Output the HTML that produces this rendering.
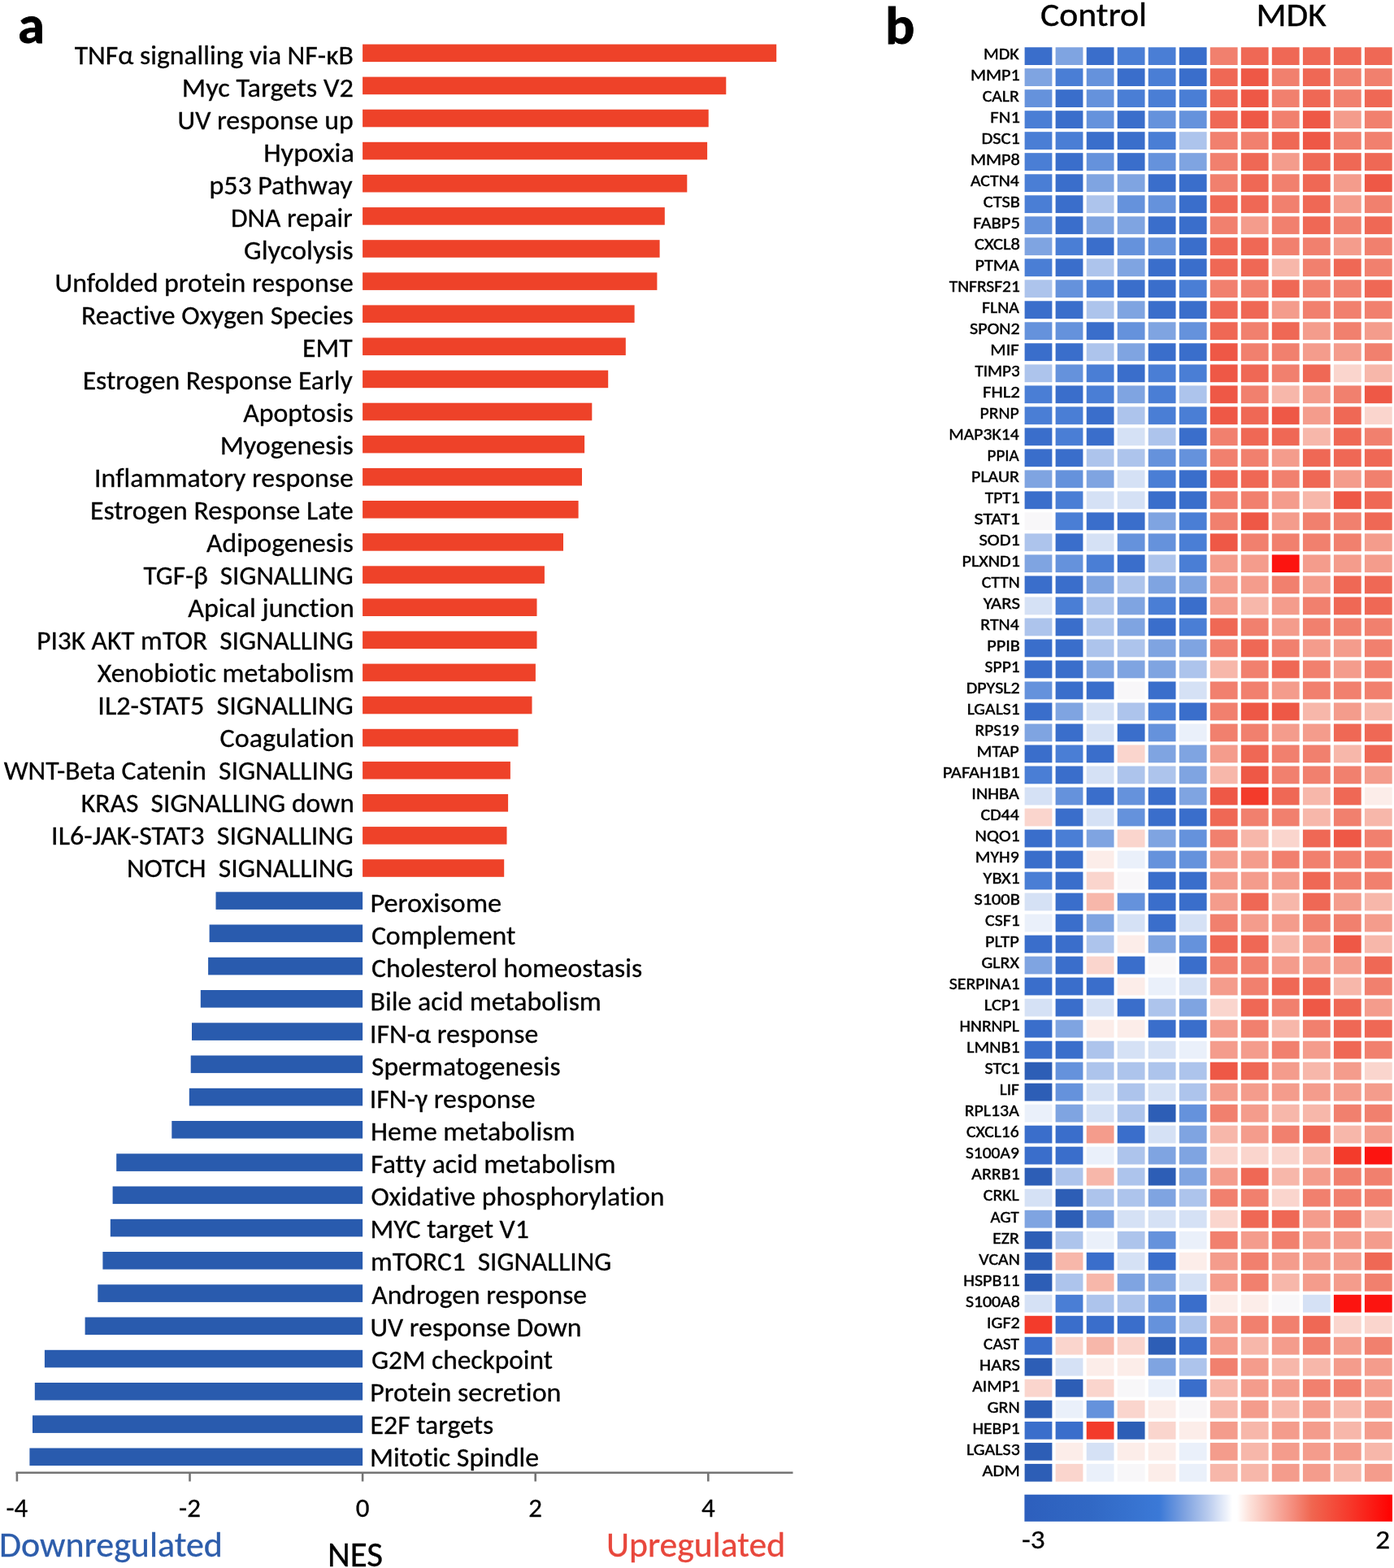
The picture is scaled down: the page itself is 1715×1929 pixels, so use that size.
<!DOCTYPE html><html><head><meta charset="utf-8"><title>GSEA NES and heatmap</title><style>html,body{margin:0;padding:0;background:#fff}svg{display:block}text{font-family:"Carlito","Liberation Sans",sans-serif;white-space:pre;font-variant-ligatures:none;font-feature-settings:"liga" 0}</style></head><body>
<svg width="1715" height="1929" viewBox="0 0 1715 1929">
<rect width="1715" height="1929" fill="#ffffff"/>
<text x="22" y="53.2" font-size="64" font-weight="bold" fill="#000" stroke="#000" stroke-width="0.8" textLength="32.9" lengthAdjust="spacingAndGlyphs">a</text>
<text x="1089" y="53.5" font-size="64" font-weight="bold" fill="#000" stroke="#000" stroke-width="0.8" textLength="36.4" lengthAdjust="spacingAndGlyphs">b</text>
<g><rect x="446.1" y="54.5" width="509.1" height="21.6" fill="#ee4229"/><rect x="446.1" y="94.6" width="447.2" height="21.6" fill="#ee4229"/><rect x="446.1" y="134.7" width="425.6" height="21.6" fill="#ee4229"/><rect x="446.1" y="174.8" width="424.0" height="21.6" fill="#ee4229"/><rect x="446.1" y="214.9" width="399.2" height="21.6" fill="#ee4229"/><rect x="446.1" y="255.1" width="371.7" height="21.6" fill="#ee4229"/><rect x="446.1" y="295.2" width="365.5" height="21.6" fill="#ee4229"/><rect x="446.1" y="335.3" width="362.3" height="21.6" fill="#ee4229"/><rect x="446.1" y="375.4" width="334.5" height="21.6" fill="#ee4229"/><rect x="446.1" y="415.5" width="323.7" height="21.6" fill="#ee4229"/><rect x="446.1" y="455.6" width="302.1" height="21.6" fill="#ee4229"/><rect x="446.1" y="495.7" width="282.2" height="21.6" fill="#ee4229"/><rect x="446.1" y="535.8" width="273.0" height="21.6" fill="#ee4229"/><rect x="446.1" y="575.9" width="269.9" height="21.6" fill="#ee4229"/><rect x="446.1" y="616.0" width="265.5" height="21.6" fill="#ee4229"/><rect x="446.1" y="656.1" width="246.9" height="21.6" fill="#ee4229"/><rect x="446.1" y="696.3" width="223.8" height="21.6" fill="#ee4229"/><rect x="446.1" y="736.4" width="214.4" height="21.6" fill="#ee4229"/><rect x="446.1" y="776.5" width="214.4" height="21.6" fill="#ee4229"/><rect x="446.1" y="816.6" width="212.8" height="21.6" fill="#ee4229"/><rect x="446.1" y="856.7" width="208.4" height="21.6" fill="#ee4229"/><rect x="446.1" y="896.8" width="191.4" height="21.6" fill="#ee4229"/><rect x="446.1" y="936.9" width="181.8" height="21.6" fill="#ee4229"/><rect x="446.1" y="977.0" width="179.0" height="21.6" fill="#ee4229"/><rect x="446.1" y="1017.1" width="177.4" height="21.6" fill="#ee4229"/><rect x="446.1" y="1057.2" width="174.1" height="21.6" fill="#ee4229"/><rect x="265.5" y="1097.3" width="180.6" height="21.6" fill="#295bae"/><rect x="257.6" y="1137.5" width="188.5" height="21.6" fill="#295bae"/><rect x="256.1" y="1177.8" width="190.0" height="21.6" fill="#295bae"/><rect x="246.8" y="1218.0" width="199.3" height="21.6" fill="#295bae"/><rect x="236.0" y="1258.3" width="210.1" height="21.6" fill="#295bae"/><rect x="234.7" y="1298.5" width="211.4" height="21.6" fill="#295bae"/><rect x="232.8" y="1338.8" width="213.3" height="21.6" fill="#295bae"/><rect x="211.3" y="1379.0" width="234.8" height="21.6" fill="#295bae"/><rect x="143.2" y="1419.3" width="302.9" height="21.6" fill="#295bae"/><rect x="138.6" y="1459.5" width="307.5" height="21.6" fill="#295bae"/><rect x="135.8" y="1499.8" width="310.3" height="21.6" fill="#295bae"/><rect x="126.4" y="1540.0" width="319.7" height="21.6" fill="#295bae"/><rect x="120.3" y="1580.3" width="325.8" height="21.6" fill="#295bae"/><rect x="104.6" y="1620.5" width="341.5" height="21.6" fill="#295bae"/><rect x="54.9" y="1660.8" width="391.2" height="21.6" fill="#295bae"/><rect x="42.8" y="1701.0" width="403.3" height="21.6" fill="#295bae"/><rect x="40.0" y="1741.3" width="406.1" height="21.6" fill="#295bae"/><rect x="36.4" y="1781.5" width="409.7" height="21.6" fill="#295bae"/></g>
<g font-size="32.5" fill="#000" stroke="#000" stroke-width="0.3"><text x="434.8" y="78.9" text-anchor="end" textLength="343.1" lengthAdjust="spacingAndGlyphs">TNFα signalling via NF-κB</text><text x="434.8" y="118.9" text-anchor="end" textLength="211.0" lengthAdjust="spacingAndGlyphs">Myc Targets V2</text><text x="434.8" y="158.9" text-anchor="end" textLength="216.3" lengthAdjust="spacingAndGlyphs">UV response up</text><text x="435.9" y="198.9" text-anchor="end" textLength="111.7" lengthAdjust="spacingAndGlyphs">Hypoxia</text><text x="433.7" y="238.9" text-anchor="end" textLength="176.3" lengthAdjust="spacingAndGlyphs">p53 Pathway</text><text x="433.7" y="278.9" text-anchor="end" textLength="149.7" lengthAdjust="spacingAndGlyphs">DNA repair</text><text x="434.8" y="318.9" text-anchor="end" textLength="134.7" lengthAdjust="spacingAndGlyphs">Glycolysis</text><text x="434.8" y="358.9" text-anchor="end" textLength="367.2" lengthAdjust="spacingAndGlyphs">Unfolded protein response</text><text x="434.8" y="398.9" text-anchor="end" textLength="334.9" lengthAdjust="spacingAndGlyphs">Reactive Oxygen Species</text><text x="433.7" y="438.9" text-anchor="end" textLength="61.6" lengthAdjust="spacingAndGlyphs">EMT</text><text x="433.7" y="478.9" text-anchor="end" textLength="332.0" lengthAdjust="spacingAndGlyphs">Estrogen Response Early</text><text x="434.8" y="518.9" text-anchor="end" textLength="135.6" lengthAdjust="spacingAndGlyphs">Apoptosis</text><text x="434.8" y="558.9" text-anchor="end" textLength="164.1" lengthAdjust="spacingAndGlyphs">Myogenesis</text><text x="434.8" y="598.9" text-anchor="end" textLength="318.7" lengthAdjust="spacingAndGlyphs">Inflammatory response</text><text x="434.8" y="638.9" text-anchor="end" textLength="323.8" lengthAdjust="spacingAndGlyphs">Estrogen Response Late</text><text x="434.8" y="678.9" text-anchor="end" textLength="180.7" lengthAdjust="spacingAndGlyphs">Adipogenesis</text><text x="434.7" y="718.9" text-anchor="end" textLength="258.1" lengthAdjust="spacingAndGlyphs">TGF-β  SIGNALLING</text><text x="435.8" y="758.9" text-anchor="end" textLength="204.5" lengthAdjust="spacingAndGlyphs">Apical junction</text><text x="434.8" y="798.9" text-anchor="end" textLength="389.6" lengthAdjust="spacingAndGlyphs">PI3K AKT mTOR  SIGNALLING</text><text x="435.8" y="838.9" text-anchor="end" textLength="316.0" lengthAdjust="spacingAndGlyphs">Xenobiotic metabolism</text><text x="434.8" y="878.9" text-anchor="end" textLength="314.5" lengthAdjust="spacingAndGlyphs">IL2-STAT5  SIGNALLING</text><text x="435.8" y="918.9" text-anchor="end" textLength="165.2" lengthAdjust="spacingAndGlyphs">Coagulation</text><text x="434.8" y="958.9" text-anchor="end" textLength="430.1" lengthAdjust="spacingAndGlyphs">WNT-Beta Catenin  SIGNALLING</text><text x="435.8" y="998.9" text-anchor="end" textLength="336.0" lengthAdjust="spacingAndGlyphs">KRAS  SIGNALLING down</text><text x="434.8" y="1038.9" text-anchor="end" textLength="371.7" lengthAdjust="spacingAndGlyphs">IL6-JAK-STAT3  SIGNALLING</text><text x="434.8" y="1078.9" text-anchor="end" textLength="278.9" lengthAdjust="spacingAndGlyphs">NOTCH  SIGNALLING</text><text x="617.2" y="1122.1" text-anchor="end" textLength="161.7" lengthAdjust="spacingAndGlyphs">Peroxisome</text><text x="634.3" y="1162.2" text-anchor="end" textLength="177.4" lengthAdjust="spacingAndGlyphs">Complement</text><text x="790.1" y="1202.3" text-anchor="end" textLength="333.0" lengthAdjust="spacingAndGlyphs">Cholesterol homeostasis</text><text x="739.9" y="1242.5" text-anchor="end" textLength="284.3" lengthAdjust="spacingAndGlyphs">Bile acid metabolism</text><text x="662.2" y="1282.6" text-anchor="end" textLength="207.3" lengthAdjust="spacingAndGlyphs">IFN-α response</text><text x="689.5" y="1322.7" text-anchor="end" textLength="232.5" lengthAdjust="spacingAndGlyphs">Spermatogenesis</text><text x="658.6" y="1362.8" text-anchor="end" textLength="203.8" lengthAdjust="spacingAndGlyphs">IFN-γ response</text><text x="707.4" y="1402.9" text-anchor="end" textLength="251.4" lengthAdjust="spacingAndGlyphs">Heme metabolism</text><text x="757.4" y="1443.1" text-anchor="end" textLength="301.4" lengthAdjust="spacingAndGlyphs">Fatty acid metabolism</text><text x="817.4" y="1483.2" text-anchor="end" textLength="360.9" lengthAdjust="spacingAndGlyphs">Oxidative phosphorylation</text><text x="650.8" y="1523.3" text-anchor="end" textLength="195.4" lengthAdjust="spacingAndGlyphs">MYC target V1</text><text x="752.3" y="1563.4" text-anchor="end" textLength="296.2" lengthAdjust="spacingAndGlyphs">mTORC1  SIGNALLING</text><text x="722.0" y="1603.5" text-anchor="end" textLength="264.7" lengthAdjust="spacingAndGlyphs">Androgen response</text><text x="715.5" y="1643.7" text-anchor="end" textLength="260.0" lengthAdjust="spacingAndGlyphs">UV response Down</text><text x="680.0" y="1683.8" text-anchor="end" textLength="223.1" lengthAdjust="spacingAndGlyphs">G2M checkpoint</text><text x="690.3" y="1723.9" text-anchor="end" textLength="235.0" lengthAdjust="spacingAndGlyphs">Protein secretion</text><text x="607.2" y="1764.0" text-anchor="end" textLength="151.6" lengthAdjust="spacingAndGlyphs">E2F targets</text><text x="663.2" y="1804.1" text-anchor="end" textLength="208.1" lengthAdjust="spacingAndGlyphs">Mitotic Spindle</text></g>
<g stroke="#747474" stroke-width="2.6" fill="none"><line x1="19.5" y1="1811.8" x2="975.5" y2="1811.8"/>
<line x1="20.9" y1="1811.8" x2="20.9" y2="1822.5"/>
<line x1="233.5" y1="1811.8" x2="233.5" y2="1822.5"/>
<line x1="446.1" y1="1811.8" x2="446.1" y2="1822.5"/>
<line x1="658.7" y1="1811.8" x2="658.7" y2="1822.5"/>
<line x1="871.3" y1="1811.8" x2="871.3" y2="1822.5"/>
</g>
<text x="20.9" y="1866" font-size="32" text-anchor="middle" fill="#000" stroke="#000" stroke-width="0.3" textLength="26.8" lengthAdjust="spacingAndGlyphs">-4</text><text x="233.5" y="1866" font-size="32" text-anchor="middle" fill="#000" stroke="#000" stroke-width="0.3" textLength="26.8" lengthAdjust="spacingAndGlyphs">-2</text><text x="446.1" y="1866" font-size="32" text-anchor="middle" fill="#000" stroke="#000" stroke-width="0.3" textLength="16.7" lengthAdjust="spacingAndGlyphs">0</text><text x="658.7" y="1866" font-size="32" text-anchor="middle" fill="#000" stroke="#000" stroke-width="0.3" textLength="16.7" lengthAdjust="spacingAndGlyphs">2</text><text x="871.3" y="1866" font-size="32" text-anchor="middle" fill="#000" stroke="#000" stroke-width="0.3" textLength="16.7" lengthAdjust="spacingAndGlyphs">4</text>
<text x="-1" y="1915" font-size="43" fill="#2d5dab" stroke="#2d5dab" stroke-width="0.3" textLength="274.9" lengthAdjust="spacingAndGlyphs">Downregulated</text>
<text x="403" y="1926.8" font-size="43" fill="#000" stroke="#000" stroke-width="0.3" textLength="68.1" lengthAdjust="spacingAndGlyphs">NES</text>
<text x="746" y="1915" font-size="43" fill="#e8473c" stroke="#e8473c" stroke-width="0.3" textLength="220.1" lengthAdjust="spacingAndGlyphs">Upregulated</text>
<g><rect x="1260.6" y="58.2" width="33.8" height="21.8" fill="#3a6ecb"/><rect x="1298.6" y="58.2" width="33.8" height="21.8" fill="#7fa4e1"/><rect x="1336.7" y="58.2" width="33.8" height="21.8" fill="#3a6ecb"/><rect x="1374.7" y="58.2" width="33.8" height="21.8" fill="#4a7ed5"/><rect x="1412.7" y="58.2" width="33.8" height="21.8" fill="#4a7ed5"/><rect x="1450.8" y="58.2" width="33.8" height="21.8" fill="#3a6ecb"/><rect x="1488.8" y="58.2" width="33.8" height="21.8" fill="#f1806e"/><rect x="1526.8" y="58.2" width="33.8" height="21.8" fill="#ef6855"/><rect x="1564.8" y="58.2" width="33.8" height="21.8" fill="#ef6855"/><rect x="1602.9" y="58.2" width="33.8" height="21.8" fill="#ef6855"/><rect x="1640.9" y="58.2" width="33.8" height="21.8" fill="#ef6855"/><rect x="1678.9" y="58.2" width="33.8" height="21.8" fill="#ef6855"/><rect x="1260.6" y="84.2" width="33.8" height="21.8" fill="#7fa4e1"/><rect x="1298.6" y="84.2" width="33.8" height="21.8" fill="#4a7ed5"/><rect x="1336.7" y="84.2" width="33.8" height="21.8" fill="#6592dc"/><rect x="1374.7" y="84.2" width="33.8" height="21.8" fill="#3a6ecb"/><rect x="1412.7" y="84.2" width="33.8" height="21.8" fill="#4a7ed5"/><rect x="1450.8" y="84.2" width="33.8" height="21.8" fill="#3a6ecb"/><rect x="1488.8" y="84.2" width="33.8" height="21.8" fill="#ef6855"/><rect x="1526.8" y="84.2" width="33.8" height="21.8" fill="#ee5846"/><rect x="1564.8" y="84.2" width="33.8" height="21.8" fill="#f1806e"/><rect x="1602.9" y="84.2" width="33.8" height="21.8" fill="#ef6855"/><rect x="1640.9" y="84.2" width="33.8" height="21.8" fill="#f1806e"/><rect x="1678.9" y="84.2" width="33.8" height="21.8" fill="#f1806e"/><rect x="1260.6" y="110.2" width="33.8" height="21.8" fill="#6592dc"/><rect x="1298.6" y="110.2" width="33.8" height="21.8" fill="#3a6ecb"/><rect x="1336.7" y="110.2" width="33.8" height="21.8" fill="#6592dc"/><rect x="1374.7" y="110.2" width="33.8" height="21.8" fill="#4a7ed5"/><rect x="1412.7" y="110.2" width="33.8" height="21.8" fill="#4a7ed5"/><rect x="1450.8" y="110.2" width="33.8" height="21.8" fill="#4a7ed5"/><rect x="1488.8" y="110.2" width="33.8" height="21.8" fill="#ef6855"/><rect x="1526.8" y="110.2" width="33.8" height="21.8" fill="#ee5846"/><rect x="1564.8" y="110.2" width="33.8" height="21.8" fill="#f1806e"/><rect x="1602.9" y="110.2" width="33.8" height="21.8" fill="#ef6855"/><rect x="1640.9" y="110.2" width="33.8" height="21.8" fill="#f1806e"/><rect x="1678.9" y="110.2" width="33.8" height="21.8" fill="#ef6855"/><rect x="1260.6" y="136.2" width="33.8" height="21.8" fill="#4a7ed5"/><rect x="1298.6" y="136.2" width="33.8" height="21.8" fill="#3a6ecb"/><rect x="1336.7" y="136.2" width="33.8" height="21.8" fill="#6592dc"/><rect x="1374.7" y="136.2" width="33.8" height="21.8" fill="#3a6ecb"/><rect x="1412.7" y="136.2" width="33.8" height="21.8" fill="#6592dc"/><rect x="1450.8" y="136.2" width="33.8" height="21.8" fill="#6592dc"/><rect x="1488.8" y="136.2" width="33.8" height="21.8" fill="#ef6855"/><rect x="1526.8" y="136.2" width="33.8" height="21.8" fill="#ee5846"/><rect x="1564.8" y="136.2" width="33.8" height="21.8" fill="#f1806e"/><rect x="1602.9" y="136.2" width="33.8" height="21.8" fill="#ee5846"/><rect x="1640.9" y="136.2" width="33.8" height="21.8" fill="#f49c8c"/><rect x="1678.9" y="136.2" width="33.8" height="21.8" fill="#f1806e"/><rect x="1260.6" y="162.2" width="33.8" height="21.8" fill="#4a7ed5"/><rect x="1298.6" y="162.2" width="33.8" height="21.8" fill="#4a7ed5"/><rect x="1336.7" y="162.2" width="33.8" height="21.8" fill="#3a6ecb"/><rect x="1374.7" y="162.2" width="33.8" height="21.8" fill="#3a6ecb"/><rect x="1412.7" y="162.2" width="33.8" height="21.8" fill="#4a7ed5"/><rect x="1450.8" y="162.2" width="33.8" height="21.8" fill="#adc4ec"/><rect x="1488.8" y="162.2" width="33.8" height="21.8" fill="#f1806e"/><rect x="1526.8" y="162.2" width="33.8" height="21.8" fill="#f1806e"/><rect x="1564.8" y="162.2" width="33.8" height="21.8" fill="#ef6855"/><rect x="1602.9" y="162.2" width="33.8" height="21.8" fill="#ee5846"/><rect x="1640.9" y="162.2" width="33.8" height="21.8" fill="#f1806e"/><rect x="1678.9" y="162.2" width="33.8" height="21.8" fill="#f1806e"/><rect x="1260.6" y="188.2" width="33.8" height="21.8" fill="#4a7ed5"/><rect x="1298.6" y="188.2" width="33.8" height="21.8" fill="#3a6ecb"/><rect x="1336.7" y="188.2" width="33.8" height="21.8" fill="#6592dc"/><rect x="1374.7" y="188.2" width="33.8" height="21.8" fill="#3a6ecb"/><rect x="1412.7" y="188.2" width="33.8" height="21.8" fill="#6592dc"/><rect x="1450.8" y="188.2" width="33.8" height="21.8" fill="#7fa4e1"/><rect x="1488.8" y="188.2" width="33.8" height="21.8" fill="#f1806e"/><rect x="1526.8" y="188.2" width="33.8" height="21.8" fill="#ef6855"/><rect x="1564.8" y="188.2" width="33.8" height="21.8" fill="#f49c8c"/><rect x="1602.9" y="188.2" width="33.8" height="21.8" fill="#ef6855"/><rect x="1640.9" y="188.2" width="33.8" height="21.8" fill="#ef6855"/><rect x="1678.9" y="188.2" width="33.8" height="21.8" fill="#ef6855"/><rect x="1260.6" y="214.3" width="33.8" height="21.8" fill="#4a7ed5"/><rect x="1298.6" y="214.3" width="33.8" height="21.8" fill="#3a6ecb"/><rect x="1336.7" y="214.3" width="33.8" height="21.8" fill="#7fa4e1"/><rect x="1374.7" y="214.3" width="33.8" height="21.8" fill="#7fa4e1"/><rect x="1412.7" y="214.3" width="33.8" height="21.8" fill="#3a6ecb"/><rect x="1450.8" y="214.3" width="33.8" height="21.8" fill="#3a6ecb"/><rect x="1488.8" y="214.3" width="33.8" height="21.8" fill="#f1806e"/><rect x="1526.8" y="214.3" width="33.8" height="21.8" fill="#ef6855"/><rect x="1564.8" y="214.3" width="33.8" height="21.8" fill="#f1806e"/><rect x="1602.9" y="214.3" width="33.8" height="21.8" fill="#ef6855"/><rect x="1640.9" y="214.3" width="33.8" height="21.8" fill="#f49c8c"/><rect x="1678.9" y="214.3" width="33.8" height="21.8" fill="#ee5846"/><rect x="1260.6" y="240.3" width="33.8" height="21.8" fill="#4a7ed5"/><rect x="1298.6" y="240.3" width="33.8" height="21.8" fill="#3a6ecb"/><rect x="1336.7" y="240.3" width="33.8" height="21.8" fill="#adc4ec"/><rect x="1374.7" y="240.3" width="33.8" height="21.8" fill="#6592dc"/><rect x="1412.7" y="240.3" width="33.8" height="21.8" fill="#6592dc"/><rect x="1450.8" y="240.3" width="33.8" height="21.8" fill="#3a6ecb"/><rect x="1488.8" y="240.3" width="33.8" height="21.8" fill="#ef6855"/><rect x="1526.8" y="240.3" width="33.8" height="21.8" fill="#ef6855"/><rect x="1564.8" y="240.3" width="33.8" height="21.8" fill="#f1806e"/><rect x="1602.9" y="240.3" width="33.8" height="21.8" fill="#ef6855"/><rect x="1640.9" y="240.3" width="33.8" height="21.8" fill="#f49c8c"/><rect x="1678.9" y="240.3" width="33.8" height="21.8" fill="#f1806e"/><rect x="1260.6" y="266.3" width="33.8" height="21.8" fill="#6592dc"/><rect x="1298.6" y="266.3" width="33.8" height="21.8" fill="#3a6ecb"/><rect x="1336.7" y="266.3" width="33.8" height="21.8" fill="#7fa4e1"/><rect x="1374.7" y="266.3" width="33.8" height="21.8" fill="#7fa4e1"/><rect x="1412.7" y="266.3" width="33.8" height="21.8" fill="#3a6ecb"/><rect x="1450.8" y="266.3" width="33.8" height="21.8" fill="#3a6ecb"/><rect x="1488.8" y="266.3" width="33.8" height="21.8" fill="#f1806e"/><rect x="1526.8" y="266.3" width="33.8" height="21.8" fill="#f49c8c"/><rect x="1564.8" y="266.3" width="33.8" height="21.8" fill="#f1806e"/><rect x="1602.9" y="266.3" width="33.8" height="21.8" fill="#ef6855"/><rect x="1640.9" y="266.3" width="33.8" height="21.8" fill="#f1806e"/><rect x="1678.9" y="266.3" width="33.8" height="21.8" fill="#ef6855"/><rect x="1260.6" y="292.3" width="33.8" height="21.8" fill="#7fa4e1"/><rect x="1298.6" y="292.3" width="33.8" height="21.8" fill="#4a7ed5"/><rect x="1336.7" y="292.3" width="33.8" height="21.8" fill="#3a6ecb"/><rect x="1374.7" y="292.3" width="33.8" height="21.8" fill="#6592dc"/><rect x="1412.7" y="292.3" width="33.8" height="21.8" fill="#6592dc"/><rect x="1450.8" y="292.3" width="33.8" height="21.8" fill="#3a6ecb"/><rect x="1488.8" y="292.3" width="33.8" height="21.8" fill="#ef6855"/><rect x="1526.8" y="292.3" width="33.8" height="21.8" fill="#ef6855"/><rect x="1564.8" y="292.3" width="33.8" height="21.8" fill="#f1806e"/><rect x="1602.9" y="292.3" width="33.8" height="21.8" fill="#f1806e"/><rect x="1640.9" y="292.3" width="33.8" height="21.8" fill="#f49c8c"/><rect x="1678.9" y="292.3" width="33.8" height="21.8" fill="#f1806e"/><rect x="1260.6" y="318.3" width="33.8" height="21.8" fill="#4a7ed5"/><rect x="1298.6" y="318.3" width="33.8" height="21.8" fill="#3a6ecb"/><rect x="1336.7" y="318.3" width="33.8" height="21.8" fill="#adc4ec"/><rect x="1374.7" y="318.3" width="33.8" height="21.8" fill="#7fa4e1"/><rect x="1412.7" y="318.3" width="33.8" height="21.8" fill="#3a6ecb"/><rect x="1450.8" y="318.3" width="33.8" height="21.8" fill="#3a6ecb"/><rect x="1488.8" y="318.3" width="33.8" height="21.8" fill="#ef6855"/><rect x="1526.8" y="318.3" width="33.8" height="21.8" fill="#ef6855"/><rect x="1564.8" y="318.3" width="33.8" height="21.8" fill="#f7b7aa"/><rect x="1602.9" y="318.3" width="33.8" height="21.8" fill="#f1806e"/><rect x="1640.9" y="318.3" width="33.8" height="21.8" fill="#ef6855"/><rect x="1678.9" y="318.3" width="33.8" height="21.8" fill="#f1806e"/><rect x="1260.6" y="344.3" width="33.8" height="21.8" fill="#adc4ec"/><rect x="1298.6" y="344.3" width="33.8" height="21.8" fill="#6592dc"/><rect x="1336.7" y="344.3" width="33.8" height="21.8" fill="#4a7ed5"/><rect x="1374.7" y="344.3" width="33.8" height="21.8" fill="#3a6ecb"/><rect x="1412.7" y="344.3" width="33.8" height="21.8" fill="#3a6ecb"/><rect x="1450.8" y="344.3" width="33.8" height="21.8" fill="#4a7ed5"/><rect x="1488.8" y="344.3" width="33.8" height="21.8" fill="#f1806e"/><rect x="1526.8" y="344.3" width="33.8" height="21.8" fill="#f1806e"/><rect x="1564.8" y="344.3" width="33.8" height="21.8" fill="#ef6855"/><rect x="1602.9" y="344.3" width="33.8" height="21.8" fill="#f1806e"/><rect x="1640.9" y="344.3" width="33.8" height="21.8" fill="#f1806e"/><rect x="1678.9" y="344.3" width="33.8" height="21.8" fill="#ef6855"/><rect x="1260.6" y="370.3" width="33.8" height="21.8" fill="#3a6ecb"/><rect x="1298.6" y="370.3" width="33.8" height="21.8" fill="#3a6ecb"/><rect x="1336.7" y="370.3" width="33.8" height="21.8" fill="#adc4ec"/><rect x="1374.7" y="370.3" width="33.8" height="21.8" fill="#7fa4e1"/><rect x="1412.7" y="370.3" width="33.8" height="21.8" fill="#3a6ecb"/><rect x="1450.8" y="370.3" width="33.8" height="21.8" fill="#3a6ecb"/><rect x="1488.8" y="370.3" width="33.8" height="21.8" fill="#ef6855"/><rect x="1526.8" y="370.3" width="33.8" height="21.8" fill="#ef6855"/><rect x="1564.8" y="370.3" width="33.8" height="21.8" fill="#f49c8c"/><rect x="1602.9" y="370.3" width="33.8" height="21.8" fill="#f1806e"/><rect x="1640.9" y="370.3" width="33.8" height="21.8" fill="#f1806e"/><rect x="1678.9" y="370.3" width="33.8" height="21.8" fill="#f1806e"/><rect x="1260.6" y="396.3" width="33.8" height="21.8" fill="#6592dc"/><rect x="1298.6" y="396.3" width="33.8" height="21.8" fill="#6592dc"/><rect x="1336.7" y="396.3" width="33.8" height="21.8" fill="#3a6ecb"/><rect x="1374.7" y="396.3" width="33.8" height="21.8" fill="#6592dc"/><rect x="1412.7" y="396.3" width="33.8" height="21.8" fill="#7fa4e1"/><rect x="1450.8" y="396.3" width="33.8" height="21.8" fill="#6592dc"/><rect x="1488.8" y="396.3" width="33.8" height="21.8" fill="#ef6855"/><rect x="1526.8" y="396.3" width="33.8" height="21.8" fill="#f1806e"/><rect x="1564.8" y="396.3" width="33.8" height="21.8" fill="#ef6855"/><rect x="1602.9" y="396.3" width="33.8" height="21.8" fill="#f49c8c"/><rect x="1640.9" y="396.3" width="33.8" height="21.8" fill="#f1806e"/><rect x="1678.9" y="396.3" width="33.8" height="21.8" fill="#f49c8c"/><rect x="1260.6" y="422.3" width="33.8" height="21.8" fill="#3a6ecb"/><rect x="1298.6" y="422.3" width="33.8" height="21.8" fill="#3a6ecb"/><rect x="1336.7" y="422.3" width="33.8" height="21.8" fill="#adc4ec"/><rect x="1374.7" y="422.3" width="33.8" height="21.8" fill="#7fa4e1"/><rect x="1412.7" y="422.3" width="33.8" height="21.8" fill="#3a6ecb"/><rect x="1450.8" y="422.3" width="33.8" height="21.8" fill="#3a6ecb"/><rect x="1488.8" y="422.3" width="33.8" height="21.8" fill="#ee5846"/><rect x="1526.8" y="422.3" width="33.8" height="21.8" fill="#f1806e"/><rect x="1564.8" y="422.3" width="33.8" height="21.8" fill="#f1806e"/><rect x="1602.9" y="422.3" width="33.8" height="21.8" fill="#f49c8c"/><rect x="1640.9" y="422.3" width="33.8" height="21.8" fill="#f49c8c"/><rect x="1678.9" y="422.3" width="33.8" height="21.8" fill="#f1806e"/><rect x="1260.6" y="448.4" width="33.8" height="21.8" fill="#adc4ec"/><rect x="1298.6" y="448.4" width="33.8" height="21.8" fill="#6592dc"/><rect x="1336.7" y="448.4" width="33.8" height="21.8" fill="#4a7ed5"/><rect x="1374.7" y="448.4" width="33.8" height="21.8" fill="#3a6ecb"/><rect x="1412.7" y="448.4" width="33.8" height="21.8" fill="#4a7ed5"/><rect x="1450.8" y="448.4" width="33.8" height="21.8" fill="#4a7ed5"/><rect x="1488.8" y="448.4" width="33.8" height="21.8" fill="#ee5846"/><rect x="1526.8" y="448.4" width="33.8" height="21.8" fill="#ef6855"/><rect x="1564.8" y="448.4" width="33.8" height="21.8" fill="#f1806e"/><rect x="1602.9" y="448.4" width="33.8" height="21.8" fill="#ef6855"/><rect x="1640.9" y="448.4" width="33.8" height="21.8" fill="#fad5cd"/><rect x="1678.9" y="448.4" width="33.8" height="21.8" fill="#f7b7aa"/><rect x="1260.6" y="474.4" width="33.8" height="21.8" fill="#4a7ed5"/><rect x="1298.6" y="474.4" width="33.8" height="21.8" fill="#3a6ecb"/><rect x="1336.7" y="474.4" width="33.8" height="21.8" fill="#4a7ed5"/><rect x="1374.7" y="474.4" width="33.8" height="21.8" fill="#7fa4e1"/><rect x="1412.7" y="474.4" width="33.8" height="21.8" fill="#4a7ed5"/><rect x="1450.8" y="474.4" width="33.8" height="21.8" fill="#adc4ec"/><rect x="1488.8" y="474.4" width="33.8" height="21.8" fill="#ee5846"/><rect x="1526.8" y="474.4" width="33.8" height="21.8" fill="#f1806e"/><rect x="1564.8" y="474.4" width="33.8" height="21.8" fill="#f7b7aa"/><rect x="1602.9" y="474.4" width="33.8" height="21.8" fill="#f49c8c"/><rect x="1640.9" y="474.4" width="33.8" height="21.8" fill="#f1806e"/><rect x="1678.9" y="474.4" width="33.8" height="21.8" fill="#ee5846"/><rect x="1260.6" y="500.4" width="33.8" height="21.8" fill="#4a7ed5"/><rect x="1298.6" y="500.4" width="33.8" height="21.8" fill="#4a7ed5"/><rect x="1336.7" y="500.4" width="33.8" height="21.8" fill="#3a6ecb"/><rect x="1374.7" y="500.4" width="33.8" height="21.8" fill="#adc4ec"/><rect x="1412.7" y="500.4" width="33.8" height="21.8" fill="#4a7ed5"/><rect x="1450.8" y="500.4" width="33.8" height="21.8" fill="#4a7ed5"/><rect x="1488.8" y="500.4" width="33.8" height="21.8" fill="#ee5846"/><rect x="1526.8" y="500.4" width="33.8" height="21.8" fill="#ef6855"/><rect x="1564.8" y="500.4" width="33.8" height="21.8" fill="#ee5846"/><rect x="1602.9" y="500.4" width="33.8" height="21.8" fill="#f49c8c"/><rect x="1640.9" y="500.4" width="33.8" height="21.8" fill="#ef6855"/><rect x="1678.9" y="500.4" width="33.8" height="21.8" fill="#fad5cd"/><rect x="1260.6" y="526.4" width="33.8" height="21.8" fill="#3a6ecb"/><rect x="1298.6" y="526.4" width="33.8" height="21.8" fill="#4a7ed5"/><rect x="1336.7" y="526.4" width="33.8" height="21.8" fill="#3a6ecb"/><rect x="1374.7" y="526.4" width="33.8" height="21.8" fill="#d5e1f5"/><rect x="1412.7" y="526.4" width="33.8" height="21.8" fill="#adc4ec"/><rect x="1450.8" y="526.4" width="33.8" height="21.8" fill="#3a6ecb"/><rect x="1488.8" y="526.4" width="33.8" height="21.8" fill="#f1806e"/><rect x="1526.8" y="526.4" width="33.8" height="21.8" fill="#ef6855"/><rect x="1564.8" y="526.4" width="33.8" height="21.8" fill="#ef6855"/><rect x="1602.9" y="526.4" width="33.8" height="21.8" fill="#f7b7aa"/><rect x="1640.9" y="526.4" width="33.8" height="21.8" fill="#ef6855"/><rect x="1678.9" y="526.4" width="33.8" height="21.8" fill="#f1806e"/><rect x="1260.6" y="552.4" width="33.8" height="21.8" fill="#3a6ecb"/><rect x="1298.6" y="552.4" width="33.8" height="21.8" fill="#3a6ecb"/><rect x="1336.7" y="552.4" width="33.8" height="21.8" fill="#adc4ec"/><rect x="1374.7" y="552.4" width="33.8" height="21.8" fill="#adc4ec"/><rect x="1412.7" y="552.4" width="33.8" height="21.8" fill="#6592dc"/><rect x="1450.8" y="552.4" width="33.8" height="21.8" fill="#6592dc"/><rect x="1488.8" y="552.4" width="33.8" height="21.8" fill="#f1806e"/><rect x="1526.8" y="552.4" width="33.8" height="21.8" fill="#f1806e"/><rect x="1564.8" y="552.4" width="33.8" height="21.8" fill="#f49c8c"/><rect x="1602.9" y="552.4" width="33.8" height="21.8" fill="#ef6855"/><rect x="1640.9" y="552.4" width="33.8" height="21.8" fill="#ef6855"/><rect x="1678.9" y="552.4" width="33.8" height="21.8" fill="#ef6855"/><rect x="1260.6" y="578.4" width="33.8" height="21.8" fill="#7fa4e1"/><rect x="1298.6" y="578.4" width="33.8" height="21.8" fill="#6592dc"/><rect x="1336.7" y="578.4" width="33.8" height="21.8" fill="#7fa4e1"/><rect x="1374.7" y="578.4" width="33.8" height="21.8" fill="#d5e1f5"/><rect x="1412.7" y="578.4" width="33.8" height="21.8" fill="#4a7ed5"/><rect x="1450.8" y="578.4" width="33.8" height="21.8" fill="#3a6ecb"/><rect x="1488.8" y="578.4" width="33.8" height="21.8" fill="#ef6855"/><rect x="1526.8" y="578.4" width="33.8" height="21.8" fill="#ef6855"/><rect x="1564.8" y="578.4" width="33.8" height="21.8" fill="#f1806e"/><rect x="1602.9" y="578.4" width="33.8" height="21.8" fill="#ef6855"/><rect x="1640.9" y="578.4" width="33.8" height="21.8" fill="#f49c8c"/><rect x="1678.9" y="578.4" width="33.8" height="21.8" fill="#f1806e"/><rect x="1260.6" y="604.4" width="33.8" height="21.8" fill="#3a6ecb"/><rect x="1298.6" y="604.4" width="33.8" height="21.8" fill="#4a7ed5"/><rect x="1336.7" y="604.4" width="33.8" height="21.8" fill="#d5e1f5"/><rect x="1374.7" y="604.4" width="33.8" height="21.8" fill="#d5e1f5"/><rect x="1412.7" y="604.4" width="33.8" height="21.8" fill="#3a6ecb"/><rect x="1450.8" y="604.4" width="33.8" height="21.8" fill="#3a6ecb"/><rect x="1488.8" y="604.4" width="33.8" height="21.8" fill="#f1806e"/><rect x="1526.8" y="604.4" width="33.8" height="21.8" fill="#f1806e"/><rect x="1564.8" y="604.4" width="33.8" height="21.8" fill="#f49c8c"/><rect x="1602.9" y="604.4" width="33.8" height="21.8" fill="#f7b7aa"/><rect x="1640.9" y="604.4" width="33.8" height="21.8" fill="#ee5846"/><rect x="1678.9" y="604.4" width="33.8" height="21.8" fill="#ef6855"/><rect x="1260.6" y="630.4" width="33.8" height="21.8" fill="#f8f7f9"/><rect x="1298.6" y="630.4" width="33.8" height="21.8" fill="#4a7ed5"/><rect x="1336.7" y="630.4" width="33.8" height="21.8" fill="#3a6ecb"/><rect x="1374.7" y="630.4" width="33.8" height="21.8" fill="#3a6ecb"/><rect x="1412.7" y="630.4" width="33.8" height="21.8" fill="#7fa4e1"/><rect x="1450.8" y="630.4" width="33.8" height="21.8" fill="#4a7ed5"/><rect x="1488.8" y="630.4" width="33.8" height="21.8" fill="#f1806e"/><rect x="1526.8" y="630.4" width="33.8" height="21.8" fill="#ee5846"/><rect x="1564.8" y="630.4" width="33.8" height="21.8" fill="#f49c8c"/><rect x="1602.9" y="630.4" width="33.8" height="21.8" fill="#f1806e"/><rect x="1640.9" y="630.4" width="33.8" height="21.8" fill="#f1806e"/><rect x="1678.9" y="630.4" width="33.8" height="21.8" fill="#ef6855"/><rect x="1260.6" y="656.4" width="33.8" height="21.8" fill="#adc4ec"/><rect x="1298.6" y="656.4" width="33.8" height="21.8" fill="#3a6ecb"/><rect x="1336.7" y="656.4" width="33.8" height="21.8" fill="#d5e1f5"/><rect x="1374.7" y="656.4" width="33.8" height="21.8" fill="#6592dc"/><rect x="1412.7" y="656.4" width="33.8" height="21.8" fill="#6592dc"/><rect x="1450.8" y="656.4" width="33.8" height="21.8" fill="#4a7ed5"/><rect x="1488.8" y="656.4" width="33.8" height="21.8" fill="#ee5846"/><rect x="1526.8" y="656.4" width="33.8" height="21.8" fill="#f1806e"/><rect x="1564.8" y="656.4" width="33.8" height="21.8" fill="#f1806e"/><rect x="1602.9" y="656.4" width="33.8" height="21.8" fill="#f1806e"/><rect x="1640.9" y="656.4" width="33.8" height="21.8" fill="#f1806e"/><rect x="1678.9" y="656.4" width="33.8" height="21.8" fill="#f49c8c"/><rect x="1260.6" y="682.4" width="33.8" height="21.8" fill="#7fa4e1"/><rect x="1298.6" y="682.4" width="33.8" height="21.8" fill="#6592dc"/><rect x="1336.7" y="682.4" width="33.8" height="21.8" fill="#4a7ed5"/><rect x="1374.7" y="682.4" width="33.8" height="21.8" fill="#3a6ecb"/><rect x="1412.7" y="682.4" width="33.8" height="21.8" fill="#adc4ec"/><rect x="1450.8" y="682.4" width="33.8" height="21.8" fill="#4a7ed5"/><rect x="1488.8" y="682.4" width="33.8" height="21.8" fill="#f49c8c"/><rect x="1526.8" y="682.4" width="33.8" height="21.8" fill="#f49c8c"/><rect x="1564.8" y="682.4" width="33.8" height="21.8" fill="#fc1410"/><rect x="1602.9" y="682.4" width="33.8" height="21.8" fill="#f49c8c"/><rect x="1640.9" y="682.4" width="33.8" height="21.8" fill="#f49c8c"/><rect x="1678.9" y="682.4" width="33.8" height="21.8" fill="#f49c8c"/><rect x="1260.6" y="708.5" width="33.8" height="21.8" fill="#3a6ecb"/><rect x="1298.6" y="708.5" width="33.8" height="21.8" fill="#3a6ecb"/><rect x="1336.7" y="708.5" width="33.8" height="21.8" fill="#7fa4e1"/><rect x="1374.7" y="708.5" width="33.8" height="21.8" fill="#adc4ec"/><rect x="1412.7" y="708.5" width="33.8" height="21.8" fill="#7fa4e1"/><rect x="1450.8" y="708.5" width="33.8" height="21.8" fill="#7fa4e1"/><rect x="1488.8" y="708.5" width="33.8" height="21.8" fill="#f49c8c"/><rect x="1526.8" y="708.5" width="33.8" height="21.8" fill="#f49c8c"/><rect x="1564.8" y="708.5" width="33.8" height="21.8" fill="#f1806e"/><rect x="1602.9" y="708.5" width="33.8" height="21.8" fill="#f49c8c"/><rect x="1640.9" y="708.5" width="33.8" height="21.8" fill="#ef6855"/><rect x="1678.9" y="708.5" width="33.8" height="21.8" fill="#ef6855"/><rect x="1260.6" y="734.5" width="33.8" height="21.8" fill="#d5e1f5"/><rect x="1298.6" y="734.5" width="33.8" height="21.8" fill="#4a7ed5"/><rect x="1336.7" y="734.5" width="33.8" height="21.8" fill="#adc4ec"/><rect x="1374.7" y="734.5" width="33.8" height="21.8" fill="#7fa4e1"/><rect x="1412.7" y="734.5" width="33.8" height="21.8" fill="#4a7ed5"/><rect x="1450.8" y="734.5" width="33.8" height="21.8" fill="#3a6ecb"/><rect x="1488.8" y="734.5" width="33.8" height="21.8" fill="#f49c8c"/><rect x="1526.8" y="734.5" width="33.8" height="21.8" fill="#f7b7aa"/><rect x="1564.8" y="734.5" width="33.8" height="21.8" fill="#f49c8c"/><rect x="1602.9" y="734.5" width="33.8" height="21.8" fill="#f1806e"/><rect x="1640.9" y="734.5" width="33.8" height="21.8" fill="#ef6855"/><rect x="1678.9" y="734.5" width="33.8" height="21.8" fill="#ef6855"/><rect x="1260.6" y="760.5" width="33.8" height="21.8" fill="#adc4ec"/><rect x="1298.6" y="760.5" width="33.8" height="21.8" fill="#3a6ecb"/><rect x="1336.7" y="760.5" width="33.8" height="21.8" fill="#adc4ec"/><rect x="1374.7" y="760.5" width="33.8" height="21.8" fill="#7fa4e1"/><rect x="1412.7" y="760.5" width="33.8" height="21.8" fill="#3a6ecb"/><rect x="1450.8" y="760.5" width="33.8" height="21.8" fill="#4a7ed5"/><rect x="1488.8" y="760.5" width="33.8" height="21.8" fill="#ef6855"/><rect x="1526.8" y="760.5" width="33.8" height="21.8" fill="#f1806e"/><rect x="1564.8" y="760.5" width="33.8" height="21.8" fill="#f49c8c"/><rect x="1602.9" y="760.5" width="33.8" height="21.8" fill="#f1806e"/><rect x="1640.9" y="760.5" width="33.8" height="21.8" fill="#f1806e"/><rect x="1678.9" y="760.5" width="33.8" height="21.8" fill="#f1806e"/><rect x="1260.6" y="786.5" width="33.8" height="21.8" fill="#3a6ecb"/><rect x="1298.6" y="786.5" width="33.8" height="21.8" fill="#3a6ecb"/><rect x="1336.7" y="786.5" width="33.8" height="21.8" fill="#adc4ec"/><rect x="1374.7" y="786.5" width="33.8" height="21.8" fill="#adc4ec"/><rect x="1412.7" y="786.5" width="33.8" height="21.8" fill="#7fa4e1"/><rect x="1450.8" y="786.5" width="33.8" height="21.8" fill="#7fa4e1"/><rect x="1488.8" y="786.5" width="33.8" height="21.8" fill="#f1806e"/><rect x="1526.8" y="786.5" width="33.8" height="21.8" fill="#ef6855"/><rect x="1564.8" y="786.5" width="33.8" height="21.8" fill="#f1806e"/><rect x="1602.9" y="786.5" width="33.8" height="21.8" fill="#f49c8c"/><rect x="1640.9" y="786.5" width="33.8" height="21.8" fill="#f49c8c"/><rect x="1678.9" y="786.5" width="33.8" height="21.8" fill="#f1806e"/><rect x="1260.6" y="812.5" width="33.8" height="21.8" fill="#3a6ecb"/><rect x="1298.6" y="812.5" width="33.8" height="21.8" fill="#3a6ecb"/><rect x="1336.7" y="812.5" width="33.8" height="21.8" fill="#7fa4e1"/><rect x="1374.7" y="812.5" width="33.8" height="21.8" fill="#7fa4e1"/><rect x="1412.7" y="812.5" width="33.8" height="21.8" fill="#7fa4e1"/><rect x="1450.8" y="812.5" width="33.8" height="21.8" fill="#adc4ec"/><rect x="1488.8" y="812.5" width="33.8" height="21.8" fill="#f7b7aa"/><rect x="1526.8" y="812.5" width="33.8" height="21.8" fill="#f1806e"/><rect x="1564.8" y="812.5" width="33.8" height="21.8" fill="#ef6855"/><rect x="1602.9" y="812.5" width="33.8" height="21.8" fill="#f1806e"/><rect x="1640.9" y="812.5" width="33.8" height="21.8" fill="#f49c8c"/><rect x="1678.9" y="812.5" width="33.8" height="21.8" fill="#f1806e"/><rect x="1260.6" y="838.5" width="33.8" height="21.8" fill="#6592dc"/><rect x="1298.6" y="838.5" width="33.8" height="21.8" fill="#3a6ecb"/><rect x="1336.7" y="838.5" width="33.8" height="21.8" fill="#3a6ecb"/><rect x="1374.7" y="838.5" width="33.8" height="21.8" fill="#f8f7f9"/><rect x="1412.7" y="838.5" width="33.8" height="21.8" fill="#3a6ecb"/><rect x="1450.8" y="838.5" width="33.8" height="21.8" fill="#d5e1f5"/><rect x="1488.8" y="838.5" width="33.8" height="21.8" fill="#f1806e"/><rect x="1526.8" y="838.5" width="33.8" height="21.8" fill="#f1806e"/><rect x="1564.8" y="838.5" width="33.8" height="21.8" fill="#f49c8c"/><rect x="1602.9" y="838.5" width="33.8" height="21.8" fill="#f1806e"/><rect x="1640.9" y="838.5" width="33.8" height="21.8" fill="#f1806e"/><rect x="1678.9" y="838.5" width="33.8" height="21.8" fill="#f1806e"/><rect x="1260.6" y="864.5" width="33.8" height="21.8" fill="#3a6ecb"/><rect x="1298.6" y="864.5" width="33.8" height="21.8" fill="#7fa4e1"/><rect x="1336.7" y="864.5" width="33.8" height="21.8" fill="#d5e1f5"/><rect x="1374.7" y="864.5" width="33.8" height="21.8" fill="#adc4ec"/><rect x="1412.7" y="864.5" width="33.8" height="21.8" fill="#4a7ed5"/><rect x="1450.8" y="864.5" width="33.8" height="21.8" fill="#3a6ecb"/><rect x="1488.8" y="864.5" width="33.8" height="21.8" fill="#f1806e"/><rect x="1526.8" y="864.5" width="33.8" height="21.8" fill="#ee5846"/><rect x="1564.8" y="864.5" width="33.8" height="21.8" fill="#ee5846"/><rect x="1602.9" y="864.5" width="33.8" height="21.8" fill="#f7b7aa"/><rect x="1640.9" y="864.5" width="33.8" height="21.8" fill="#f49c8c"/><rect x="1678.9" y="864.5" width="33.8" height="21.8" fill="#f7b7aa"/><rect x="1260.6" y="890.5" width="33.8" height="21.8" fill="#7fa4e1"/><rect x="1298.6" y="890.5" width="33.8" height="21.8" fill="#3a6ecb"/><rect x="1336.7" y="890.5" width="33.8" height="21.8" fill="#d5e1f5"/><rect x="1374.7" y="890.5" width="33.8" height="21.8" fill="#3a6ecb"/><rect x="1412.7" y="890.5" width="33.8" height="21.8" fill="#6592dc"/><rect x="1450.8" y="890.5" width="33.8" height="21.8" fill="#eaf0fa"/><rect x="1488.8" y="890.5" width="33.8" height="21.8" fill="#f1806e"/><rect x="1526.8" y="890.5" width="33.8" height="21.8" fill="#f1806e"/><rect x="1564.8" y="890.5" width="33.8" height="21.8" fill="#f49c8c"/><rect x="1602.9" y="890.5" width="33.8" height="21.8" fill="#f49c8c"/><rect x="1640.9" y="890.5" width="33.8" height="21.8" fill="#ef6855"/><rect x="1678.9" y="890.5" width="33.8" height="21.8" fill="#ef6855"/><rect x="1260.6" y="916.5" width="33.8" height="21.8" fill="#3a6ecb"/><rect x="1298.6" y="916.5" width="33.8" height="21.8" fill="#4a7ed5"/><rect x="1336.7" y="916.5" width="33.8" height="21.8" fill="#3a6ecb"/><rect x="1374.7" y="916.5" width="33.8" height="21.8" fill="#fad5cd"/><rect x="1412.7" y="916.5" width="33.8" height="21.8" fill="#7fa4e1"/><rect x="1450.8" y="916.5" width="33.8" height="21.8" fill="#7fa4e1"/><rect x="1488.8" y="916.5" width="33.8" height="21.8" fill="#f49c8c"/><rect x="1526.8" y="916.5" width="33.8" height="21.8" fill="#ef6855"/><rect x="1564.8" y="916.5" width="33.8" height="21.8" fill="#f1806e"/><rect x="1602.9" y="916.5" width="33.8" height="21.8" fill="#f1806e"/><rect x="1640.9" y="916.5" width="33.8" height="21.8" fill="#f7b7aa"/><rect x="1678.9" y="916.5" width="33.8" height="21.8" fill="#ef6855"/><rect x="1260.6" y="942.5" width="33.8" height="21.8" fill="#4a7ed5"/><rect x="1298.6" y="942.5" width="33.8" height="21.8" fill="#3a6ecb"/><rect x="1336.7" y="942.5" width="33.8" height="21.8" fill="#d5e1f5"/><rect x="1374.7" y="942.5" width="33.8" height="21.8" fill="#adc4ec"/><rect x="1412.7" y="942.5" width="33.8" height="21.8" fill="#adc4ec"/><rect x="1450.8" y="942.5" width="33.8" height="21.8" fill="#7fa4e1"/><rect x="1488.8" y="942.5" width="33.8" height="21.8" fill="#f7b7aa"/><rect x="1526.8" y="942.5" width="33.8" height="21.8" fill="#ee5846"/><rect x="1564.8" y="942.5" width="33.8" height="21.8" fill="#f1806e"/><rect x="1602.9" y="942.5" width="33.8" height="21.8" fill="#f1806e"/><rect x="1640.9" y="942.5" width="33.8" height="21.8" fill="#f1806e"/><rect x="1678.9" y="942.5" width="33.8" height="21.8" fill="#f49c8c"/><rect x="1260.6" y="968.6" width="33.8" height="21.8" fill="#d5e1f5"/><rect x="1298.6" y="968.6" width="33.8" height="21.8" fill="#6592dc"/><rect x="1336.7" y="968.6" width="33.8" height="21.8" fill="#3a6ecb"/><rect x="1374.7" y="968.6" width="33.8" height="21.8" fill="#6592dc"/><rect x="1412.7" y="968.6" width="33.8" height="21.8" fill="#3a6ecb"/><rect x="1450.8" y="968.6" width="33.8" height="21.8" fill="#7fa4e1"/><rect x="1488.8" y="968.6" width="33.8" height="21.8" fill="#ee5846"/><rect x="1526.8" y="968.6" width="33.8" height="21.8" fill="#f33b2b"/><rect x="1564.8" y="968.6" width="33.8" height="21.8" fill="#ef6855"/><rect x="1602.9" y="968.6" width="33.8" height="21.8" fill="#f7b7aa"/><rect x="1640.9" y="968.6" width="33.8" height="21.8" fill="#ef6855"/><rect x="1678.9" y="968.6" width="33.8" height="21.8" fill="#fcede9"/><rect x="1260.6" y="994.6" width="33.8" height="21.8" fill="#fad5cd"/><rect x="1298.6" y="994.6" width="33.8" height="21.8" fill="#3a6ecb"/><rect x="1336.7" y="994.6" width="33.8" height="21.8" fill="#d5e1f5"/><rect x="1374.7" y="994.6" width="33.8" height="21.8" fill="#6592dc"/><rect x="1412.7" y="994.6" width="33.8" height="21.8" fill="#3a6ecb"/><rect x="1450.8" y="994.6" width="33.8" height="21.8" fill="#3a6ecb"/><rect x="1488.8" y="994.6" width="33.8" height="21.8" fill="#ef6855"/><rect x="1526.8" y="994.6" width="33.8" height="21.8" fill="#f1806e"/><rect x="1564.8" y="994.6" width="33.8" height="21.8" fill="#f1806e"/><rect x="1602.9" y="994.6" width="33.8" height="21.8" fill="#f7b7aa"/><rect x="1640.9" y="994.6" width="33.8" height="21.8" fill="#f1806e"/><rect x="1678.9" y="994.6" width="33.8" height="21.8" fill="#f7b7aa"/><rect x="1260.6" y="1020.6" width="33.8" height="21.8" fill="#3a6ecb"/><rect x="1298.6" y="1020.6" width="33.8" height="21.8" fill="#4a7ed5"/><rect x="1336.7" y="1020.6" width="33.8" height="21.8" fill="#7fa4e1"/><rect x="1374.7" y="1020.6" width="33.8" height="21.8" fill="#fad5cd"/><rect x="1412.7" y="1020.6" width="33.8" height="21.8" fill="#7fa4e1"/><rect x="1450.8" y="1020.6" width="33.8" height="21.8" fill="#6592dc"/><rect x="1488.8" y="1020.6" width="33.8" height="21.8" fill="#f1806e"/><rect x="1526.8" y="1020.6" width="33.8" height="21.8" fill="#f7b7aa"/><rect x="1564.8" y="1020.6" width="33.8" height="21.8" fill="#fad5cd"/><rect x="1602.9" y="1020.6" width="33.8" height="21.8" fill="#ef6855"/><rect x="1640.9" y="1020.6" width="33.8" height="21.8" fill="#ee5846"/><rect x="1678.9" y="1020.6" width="33.8" height="21.8" fill="#f1806e"/><rect x="1260.6" y="1046.6" width="33.8" height="21.8" fill="#3a6ecb"/><rect x="1298.6" y="1046.6" width="33.8" height="21.8" fill="#3a6ecb"/><rect x="1336.7" y="1046.6" width="33.8" height="21.8" fill="#fcede9"/><rect x="1374.7" y="1046.6" width="33.8" height="21.8" fill="#eaf0fa"/><rect x="1412.7" y="1046.6" width="33.8" height="21.8" fill="#6592dc"/><rect x="1450.8" y="1046.6" width="33.8" height="21.8" fill="#6592dc"/><rect x="1488.8" y="1046.6" width="33.8" height="21.8" fill="#f49c8c"/><rect x="1526.8" y="1046.6" width="33.8" height="21.8" fill="#f49c8c"/><rect x="1564.8" y="1046.6" width="33.8" height="21.8" fill="#f1806e"/><rect x="1602.9" y="1046.6" width="33.8" height="21.8" fill="#f1806e"/><rect x="1640.9" y="1046.6" width="33.8" height="21.8" fill="#f1806e"/><rect x="1678.9" y="1046.6" width="33.8" height="21.8" fill="#f1806e"/><rect x="1260.6" y="1072.6" width="33.8" height="21.8" fill="#4a7ed5"/><rect x="1298.6" y="1072.6" width="33.8" height="21.8" fill="#3a6ecb"/><rect x="1336.7" y="1072.6" width="33.8" height="21.8" fill="#fad5cd"/><rect x="1374.7" y="1072.6" width="33.8" height="21.8" fill="#f8f7f9"/><rect x="1412.7" y="1072.6" width="33.8" height="21.8" fill="#3a6ecb"/><rect x="1450.8" y="1072.6" width="33.8" height="21.8" fill="#3a6ecb"/><rect x="1488.8" y="1072.6" width="33.8" height="21.8" fill="#f49c8c"/><rect x="1526.8" y="1072.6" width="33.8" height="21.8" fill="#f49c8c"/><rect x="1564.8" y="1072.6" width="33.8" height="21.8" fill="#f49c8c"/><rect x="1602.9" y="1072.6" width="33.8" height="21.8" fill="#ef6855"/><rect x="1640.9" y="1072.6" width="33.8" height="21.8" fill="#f1806e"/><rect x="1678.9" y="1072.6" width="33.8" height="21.8" fill="#f1806e"/><rect x="1260.6" y="1098.6" width="33.8" height="21.8" fill="#d5e1f5"/><rect x="1298.6" y="1098.6" width="33.8" height="21.8" fill="#3a6ecb"/><rect x="1336.7" y="1098.6" width="33.8" height="21.8" fill="#f7b7aa"/><rect x="1374.7" y="1098.6" width="33.8" height="21.8" fill="#6592dc"/><rect x="1412.7" y="1098.6" width="33.8" height="21.8" fill="#3a6ecb"/><rect x="1450.8" y="1098.6" width="33.8" height="21.8" fill="#3a6ecb"/><rect x="1488.8" y="1098.6" width="33.8" height="21.8" fill="#f49c8c"/><rect x="1526.8" y="1098.6" width="33.8" height="21.8" fill="#ef6855"/><rect x="1564.8" y="1098.6" width="33.8" height="21.8" fill="#f7b7aa"/><rect x="1602.9" y="1098.6" width="33.8" height="21.8" fill="#ef6855"/><rect x="1640.9" y="1098.6" width="33.8" height="21.8" fill="#f49c8c"/><rect x="1678.9" y="1098.6" width="33.8" height="21.8" fill="#f7b7aa"/><rect x="1260.6" y="1124.6" width="33.8" height="21.8" fill="#eaf0fa"/><rect x="1298.6" y="1124.6" width="33.8" height="21.8" fill="#3a6ecb"/><rect x="1336.7" y="1124.6" width="33.8" height="21.8" fill="#7fa4e1"/><rect x="1374.7" y="1124.6" width="33.8" height="21.8" fill="#d5e1f5"/><rect x="1412.7" y="1124.6" width="33.8" height="21.8" fill="#3a6ecb"/><rect x="1450.8" y="1124.6" width="33.8" height="21.8" fill="#d5e1f5"/><rect x="1488.8" y="1124.6" width="33.8" height="21.8" fill="#f1806e"/><rect x="1526.8" y="1124.6" width="33.8" height="21.8" fill="#f49c8c"/><rect x="1564.8" y="1124.6" width="33.8" height="21.8" fill="#f49c8c"/><rect x="1602.9" y="1124.6" width="33.8" height="21.8" fill="#f1806e"/><rect x="1640.9" y="1124.6" width="33.8" height="21.8" fill="#f1806e"/><rect x="1678.9" y="1124.6" width="33.8" height="21.8" fill="#f49c8c"/><rect x="1260.6" y="1150.6" width="33.8" height="21.8" fill="#3a6ecb"/><rect x="1298.6" y="1150.6" width="33.8" height="21.8" fill="#3a6ecb"/><rect x="1336.7" y="1150.6" width="33.8" height="21.8" fill="#adc4ec"/><rect x="1374.7" y="1150.6" width="33.8" height="21.8" fill="#fcede9"/><rect x="1412.7" y="1150.6" width="33.8" height="21.8" fill="#7fa4e1"/><rect x="1450.8" y="1150.6" width="33.8" height="21.8" fill="#6592dc"/><rect x="1488.8" y="1150.6" width="33.8" height="21.8" fill="#ef6855"/><rect x="1526.8" y="1150.6" width="33.8" height="21.8" fill="#ef6855"/><rect x="1564.8" y="1150.6" width="33.8" height="21.8" fill="#f7b7aa"/><rect x="1602.9" y="1150.6" width="33.8" height="21.8" fill="#f49c8c"/><rect x="1640.9" y="1150.6" width="33.8" height="21.8" fill="#ee5846"/><rect x="1678.9" y="1150.6" width="33.8" height="21.8" fill="#f7b7aa"/><rect x="1260.6" y="1176.6" width="33.8" height="21.8" fill="#7fa4e1"/><rect x="1298.6" y="1176.6" width="33.8" height="21.8" fill="#3a6ecb"/><rect x="1336.7" y="1176.6" width="33.8" height="21.8" fill="#fad5cd"/><rect x="1374.7" y="1176.6" width="33.8" height="21.8" fill="#3a6ecb"/><rect x="1412.7" y="1176.6" width="33.8" height="21.8" fill="#f8f7f9"/><rect x="1450.8" y="1176.6" width="33.8" height="21.8" fill="#3a6ecb"/><rect x="1488.8" y="1176.6" width="33.8" height="21.8" fill="#f1806e"/><rect x="1526.8" y="1176.6" width="33.8" height="21.8" fill="#f1806e"/><rect x="1564.8" y="1176.6" width="33.8" height="21.8" fill="#f49c8c"/><rect x="1602.9" y="1176.6" width="33.8" height="21.8" fill="#f49c8c"/><rect x="1640.9" y="1176.6" width="33.8" height="21.8" fill="#f49c8c"/><rect x="1678.9" y="1176.6" width="33.8" height="21.8" fill="#ef6855"/><rect x="1260.6" y="1202.6" width="33.8" height="21.8" fill="#3a6ecb"/><rect x="1298.6" y="1202.6" width="33.8" height="21.8" fill="#3a6ecb"/><rect x="1336.7" y="1202.6" width="33.8" height="21.8" fill="#3a6ecb"/><rect x="1374.7" y="1202.6" width="33.8" height="21.8" fill="#fcede9"/><rect x="1412.7" y="1202.6" width="33.8" height="21.8" fill="#eaf0fa"/><rect x="1450.8" y="1202.6" width="33.8" height="21.8" fill="#d5e1f5"/><rect x="1488.8" y="1202.6" width="33.8" height="21.8" fill="#f49c8c"/><rect x="1526.8" y="1202.6" width="33.8" height="21.8" fill="#f1806e"/><rect x="1564.8" y="1202.6" width="33.8" height="21.8" fill="#ef6855"/><rect x="1602.9" y="1202.6" width="33.8" height="21.8" fill="#ef6855"/><rect x="1640.9" y="1202.6" width="33.8" height="21.8" fill="#f7b7aa"/><rect x="1678.9" y="1202.6" width="33.8" height="21.8" fill="#f1806e"/><rect x="1260.6" y="1228.7" width="33.8" height="21.8" fill="#d5e1f5"/><rect x="1298.6" y="1228.7" width="33.8" height="21.8" fill="#3a6ecb"/><rect x="1336.7" y="1228.7" width="33.8" height="21.8" fill="#d5e1f5"/><rect x="1374.7" y="1228.7" width="33.8" height="21.8" fill="#3a6ecb"/><rect x="1412.7" y="1228.7" width="33.8" height="21.8" fill="#adc4ec"/><rect x="1450.8" y="1228.7" width="33.8" height="21.8" fill="#7fa4e1"/><rect x="1488.8" y="1228.7" width="33.8" height="21.8" fill="#fad5cd"/><rect x="1526.8" y="1228.7" width="33.8" height="21.8" fill="#ef6855"/><rect x="1564.8" y="1228.7" width="33.8" height="21.8" fill="#f1806e"/><rect x="1602.9" y="1228.7" width="33.8" height="21.8" fill="#ee5846"/><rect x="1640.9" y="1228.7" width="33.8" height="21.8" fill="#ef6855"/><rect x="1678.9" y="1228.7" width="33.8" height="21.8" fill="#f49c8c"/><rect x="1260.6" y="1254.7" width="33.8" height="21.8" fill="#3a6ecb"/><rect x="1298.6" y="1254.7" width="33.8" height="21.8" fill="#7fa4e1"/><rect x="1336.7" y="1254.7" width="33.8" height="21.8" fill="#fcede9"/><rect x="1374.7" y="1254.7" width="33.8" height="21.8" fill="#fcede9"/><rect x="1412.7" y="1254.7" width="33.8" height="21.8" fill="#3a6ecb"/><rect x="1450.8" y="1254.7" width="33.8" height="21.8" fill="#3a6ecb"/><rect x="1488.8" y="1254.7" width="33.8" height="21.8" fill="#f49c8c"/><rect x="1526.8" y="1254.7" width="33.8" height="21.8" fill="#f1806e"/><rect x="1564.8" y="1254.7" width="33.8" height="21.8" fill="#f7b7aa"/><rect x="1602.9" y="1254.7" width="33.8" height="21.8" fill="#f1806e"/><rect x="1640.9" y="1254.7" width="33.8" height="21.8" fill="#ef6855"/><rect x="1678.9" y="1254.7" width="33.8" height="21.8" fill="#ef6855"/><rect x="1260.6" y="1280.7" width="33.8" height="21.8" fill="#3a6ecb"/><rect x="1298.6" y="1280.7" width="33.8" height="21.8" fill="#3a6ecb"/><rect x="1336.7" y="1280.7" width="33.8" height="21.8" fill="#adc4ec"/><rect x="1374.7" y="1280.7" width="33.8" height="21.8" fill="#d5e1f5"/><rect x="1412.7" y="1280.7" width="33.8" height="21.8" fill="#d5e1f5"/><rect x="1450.8" y="1280.7" width="33.8" height="21.8" fill="#eaf0fa"/><rect x="1488.8" y="1280.7" width="33.8" height="21.8" fill="#f49c8c"/><rect x="1526.8" y="1280.7" width="33.8" height="21.8" fill="#f49c8c"/><rect x="1564.8" y="1280.7" width="33.8" height="21.8" fill="#f1806e"/><rect x="1602.9" y="1280.7" width="33.8" height="21.8" fill="#f49c8c"/><rect x="1640.9" y="1280.7" width="33.8" height="21.8" fill="#ef6855"/><rect x="1678.9" y="1280.7" width="33.8" height="21.8" fill="#f1806e"/><rect x="1260.6" y="1306.7" width="33.8" height="21.8" fill="#2d5eb6"/><rect x="1298.6" y="1306.7" width="33.8" height="21.8" fill="#6592dc"/><rect x="1336.7" y="1306.7" width="33.8" height="21.8" fill="#adc4ec"/><rect x="1374.7" y="1306.7" width="33.8" height="21.8" fill="#adc4ec"/><rect x="1412.7" y="1306.7" width="33.8" height="21.8" fill="#adc4ec"/><rect x="1450.8" y="1306.7" width="33.8" height="21.8" fill="#adc4ec"/><rect x="1488.8" y="1306.7" width="33.8" height="21.8" fill="#ee5846"/><rect x="1526.8" y="1306.7" width="33.8" height="21.8" fill="#ef6855"/><rect x="1564.8" y="1306.7" width="33.8" height="21.8" fill="#f49c8c"/><rect x="1602.9" y="1306.7" width="33.8" height="21.8" fill="#f7b7aa"/><rect x="1640.9" y="1306.7" width="33.8" height="21.8" fill="#f49c8c"/><rect x="1678.9" y="1306.7" width="33.8" height="21.8" fill="#fad5cd"/><rect x="1260.6" y="1332.7" width="33.8" height="21.8" fill="#2d5eb6"/><rect x="1298.6" y="1332.7" width="33.8" height="21.8" fill="#6592dc"/><rect x="1336.7" y="1332.7" width="33.8" height="21.8" fill="#d5e1f5"/><rect x="1374.7" y="1332.7" width="33.8" height="21.8" fill="#adc4ec"/><rect x="1412.7" y="1332.7" width="33.8" height="21.8" fill="#d5e1f5"/><rect x="1450.8" y="1332.7" width="33.8" height="21.8" fill="#adc4ec"/><rect x="1488.8" y="1332.7" width="33.8" height="21.8" fill="#f49c8c"/><rect x="1526.8" y="1332.7" width="33.8" height="21.8" fill="#f49c8c"/><rect x="1564.8" y="1332.7" width="33.8" height="21.8" fill="#f49c8c"/><rect x="1602.9" y="1332.7" width="33.8" height="21.8" fill="#f49c8c"/><rect x="1640.9" y="1332.7" width="33.8" height="21.8" fill="#f49c8c"/><rect x="1678.9" y="1332.7" width="33.8" height="21.8" fill="#f49c8c"/><rect x="1260.6" y="1358.7" width="33.8" height="21.8" fill="#eaf0fa"/><rect x="1298.6" y="1358.7" width="33.8" height="21.8" fill="#7fa4e1"/><rect x="1336.7" y="1358.7" width="33.8" height="21.8" fill="#d5e1f5"/><rect x="1374.7" y="1358.7" width="33.8" height="21.8" fill="#adc4ec"/><rect x="1412.7" y="1358.7" width="33.8" height="21.8" fill="#2d5eb6"/><rect x="1450.8" y="1358.7" width="33.8" height="21.8" fill="#6592dc"/><rect x="1488.8" y="1358.7" width="33.8" height="21.8" fill="#f1806e"/><rect x="1526.8" y="1358.7" width="33.8" height="21.8" fill="#f49c8c"/><rect x="1564.8" y="1358.7" width="33.8" height="21.8" fill="#f7b7aa"/><rect x="1602.9" y="1358.7" width="33.8" height="21.8" fill="#f7b7aa"/><rect x="1640.9" y="1358.7" width="33.8" height="21.8" fill="#f1806e"/><rect x="1678.9" y="1358.7" width="33.8" height="21.8" fill="#f1806e"/><rect x="1260.6" y="1384.7" width="33.8" height="21.8" fill="#3a6ecb"/><rect x="1298.6" y="1384.7" width="33.8" height="21.8" fill="#3a6ecb"/><rect x="1336.7" y="1384.7" width="33.8" height="21.8" fill="#f49c8c"/><rect x="1374.7" y="1384.7" width="33.8" height="21.8" fill="#3a6ecb"/><rect x="1412.7" y="1384.7" width="33.8" height="21.8" fill="#d5e1f5"/><rect x="1450.8" y="1384.7" width="33.8" height="21.8" fill="#7fa4e1"/><rect x="1488.8" y="1384.7" width="33.8" height="21.8" fill="#f7b7aa"/><rect x="1526.8" y="1384.7" width="33.8" height="21.8" fill="#f49c8c"/><rect x="1564.8" y="1384.7" width="33.8" height="21.8" fill="#f1806e"/><rect x="1602.9" y="1384.7" width="33.8" height="21.8" fill="#ef6855"/><rect x="1640.9" y="1384.7" width="33.8" height="21.8" fill="#f7b7aa"/><rect x="1678.9" y="1384.7" width="33.8" height="21.8" fill="#f49c8c"/><rect x="1260.6" y="1410.7" width="33.8" height="21.8" fill="#3a6ecb"/><rect x="1298.6" y="1410.7" width="33.8" height="21.8" fill="#3a6ecb"/><rect x="1336.7" y="1410.7" width="33.8" height="21.8" fill="#eaf0fa"/><rect x="1374.7" y="1410.7" width="33.8" height="21.8" fill="#adc4ec"/><rect x="1412.7" y="1410.7" width="33.8" height="21.8" fill="#7fa4e1"/><rect x="1450.8" y="1410.7" width="33.8" height="21.8" fill="#7fa4e1"/><rect x="1488.8" y="1410.7" width="33.8" height="21.8" fill="#fad5cd"/><rect x="1526.8" y="1410.7" width="33.8" height="21.8" fill="#fad5cd"/><rect x="1564.8" y="1410.7" width="33.8" height="21.8" fill="#fad5cd"/><rect x="1602.9" y="1410.7" width="33.8" height="21.8" fill="#f7b7aa"/><rect x="1640.9" y="1410.7" width="33.8" height="21.8" fill="#f33b2b"/><rect x="1678.9" y="1410.7" width="33.8" height="21.8" fill="#fc1410"/><rect x="1260.6" y="1436.7" width="33.8" height="21.8" fill="#2d5eb6"/><rect x="1298.6" y="1436.7" width="33.8" height="21.8" fill="#adc4ec"/><rect x="1336.7" y="1436.7" width="33.8" height="21.8" fill="#f7b7aa"/><rect x="1374.7" y="1436.7" width="33.8" height="21.8" fill="#adc4ec"/><rect x="1412.7" y="1436.7" width="33.8" height="21.8" fill="#2d5eb6"/><rect x="1450.8" y="1436.7" width="33.8" height="21.8" fill="#7fa4e1"/><rect x="1488.8" y="1436.7" width="33.8" height="21.8" fill="#f49c8c"/><rect x="1526.8" y="1436.7" width="33.8" height="21.8" fill="#ef6855"/><rect x="1564.8" y="1436.7" width="33.8" height="21.8" fill="#f7b7aa"/><rect x="1602.9" y="1436.7" width="33.8" height="21.8" fill="#f49c8c"/><rect x="1640.9" y="1436.7" width="33.8" height="21.8" fill="#f1806e"/><rect x="1678.9" y="1436.7" width="33.8" height="21.8" fill="#f1806e"/><rect x="1260.6" y="1462.7" width="33.8" height="21.8" fill="#d5e1f5"/><rect x="1298.6" y="1462.7" width="33.8" height="21.8" fill="#2d5eb6"/><rect x="1336.7" y="1462.7" width="33.8" height="21.8" fill="#adc4ec"/><rect x="1374.7" y="1462.7" width="33.8" height="21.8" fill="#adc4ec"/><rect x="1412.7" y="1462.7" width="33.8" height="21.8" fill="#7fa4e1"/><rect x="1450.8" y="1462.7" width="33.8" height="21.8" fill="#adc4ec"/><rect x="1488.8" y="1462.7" width="33.8" height="21.8" fill="#f1806e"/><rect x="1526.8" y="1462.7" width="33.8" height="21.8" fill="#f1806e"/><rect x="1564.8" y="1462.7" width="33.8" height="21.8" fill="#fad5cd"/><rect x="1602.9" y="1462.7" width="33.8" height="21.8" fill="#f1806e"/><rect x="1640.9" y="1462.7" width="33.8" height="21.8" fill="#f1806e"/><rect x="1678.9" y="1462.7" width="33.8" height="21.8" fill="#f1806e"/><rect x="1260.6" y="1488.8" width="33.8" height="21.8" fill="#7fa4e1"/><rect x="1298.6" y="1488.8" width="33.8" height="21.8" fill="#2d5eb6"/><rect x="1336.7" y="1488.8" width="33.8" height="21.8" fill="#7fa4e1"/><rect x="1374.7" y="1488.8" width="33.8" height="21.8" fill="#d5e1f5"/><rect x="1412.7" y="1488.8" width="33.8" height="21.8" fill="#d5e1f5"/><rect x="1450.8" y="1488.8" width="33.8" height="21.8" fill="#d5e1f5"/><rect x="1488.8" y="1488.8" width="33.8" height="21.8" fill="#fad5cd"/><rect x="1526.8" y="1488.8" width="33.8" height="21.8" fill="#ef6855"/><rect x="1564.8" y="1488.8" width="33.8" height="21.8" fill="#ef6855"/><rect x="1602.9" y="1488.8" width="33.8" height="21.8" fill="#f49c8c"/><rect x="1640.9" y="1488.8" width="33.8" height="21.8" fill="#f1806e"/><rect x="1678.9" y="1488.8" width="33.8" height="21.8" fill="#f7b7aa"/><rect x="1260.6" y="1514.8" width="33.8" height="21.8" fill="#2d5eb6"/><rect x="1298.6" y="1514.8" width="33.8" height="21.8" fill="#adc4ec"/><rect x="1336.7" y="1514.8" width="33.8" height="21.8" fill="#eaf0fa"/><rect x="1374.7" y="1514.8" width="33.8" height="21.8" fill="#adc4ec"/><rect x="1412.7" y="1514.8" width="33.8" height="21.8" fill="#6592dc"/><rect x="1450.8" y="1514.8" width="33.8" height="21.8" fill="#eaf0fa"/><rect x="1488.8" y="1514.8" width="33.8" height="21.8" fill="#f1806e"/><rect x="1526.8" y="1514.8" width="33.8" height="21.8" fill="#f49c8c"/><rect x="1564.8" y="1514.8" width="33.8" height="21.8" fill="#f1806e"/><rect x="1602.9" y="1514.8" width="33.8" height="21.8" fill="#f49c8c"/><rect x="1640.9" y="1514.8" width="33.8" height="21.8" fill="#f49c8c"/><rect x="1678.9" y="1514.8" width="33.8" height="21.8" fill="#f49c8c"/><rect x="1260.6" y="1540.8" width="33.8" height="21.8" fill="#2d5eb6"/><rect x="1298.6" y="1540.8" width="33.8" height="21.8" fill="#f7b7aa"/><rect x="1336.7" y="1540.8" width="33.8" height="21.8" fill="#3a6ecb"/><rect x="1374.7" y="1540.8" width="33.8" height="21.8" fill="#d5e1f5"/><rect x="1412.7" y="1540.8" width="33.8" height="21.8" fill="#3a6ecb"/><rect x="1450.8" y="1540.8" width="33.8" height="21.8" fill="#fcede9"/><rect x="1488.8" y="1540.8" width="33.8" height="21.8" fill="#f49c8c"/><rect x="1526.8" y="1540.8" width="33.8" height="21.8" fill="#f1806e"/><rect x="1564.8" y="1540.8" width="33.8" height="21.8" fill="#f49c8c"/><rect x="1602.9" y="1540.8" width="33.8" height="21.8" fill="#f49c8c"/><rect x="1640.9" y="1540.8" width="33.8" height="21.8" fill="#f49c8c"/><rect x="1678.9" y="1540.8" width="33.8" height="21.8" fill="#ef6855"/><rect x="1260.6" y="1566.8" width="33.8" height="21.8" fill="#2d5eb6"/><rect x="1298.6" y="1566.8" width="33.8" height="21.8" fill="#adc4ec"/><rect x="1336.7" y="1566.8" width="33.8" height="21.8" fill="#f7b7aa"/><rect x="1374.7" y="1566.8" width="33.8" height="21.8" fill="#7fa4e1"/><rect x="1412.7" y="1566.8" width="33.8" height="21.8" fill="#7fa4e1"/><rect x="1450.8" y="1566.8" width="33.8" height="21.8" fill="#d5e1f5"/><rect x="1488.8" y="1566.8" width="33.8" height="21.8" fill="#f49c8c"/><rect x="1526.8" y="1566.8" width="33.8" height="21.8" fill="#f1806e"/><rect x="1564.8" y="1566.8" width="33.8" height="21.8" fill="#f7b7aa"/><rect x="1602.9" y="1566.8" width="33.8" height="21.8" fill="#f49c8c"/><rect x="1640.9" y="1566.8" width="33.8" height="21.8" fill="#f49c8c"/><rect x="1678.9" y="1566.8" width="33.8" height="21.8" fill="#f1806e"/><rect x="1260.6" y="1592.8" width="33.8" height="21.8" fill="#d5e1f5"/><rect x="1298.6" y="1592.8" width="33.8" height="21.8" fill="#4a7ed5"/><rect x="1336.7" y="1592.8" width="33.8" height="21.8" fill="#adc4ec"/><rect x="1374.7" y="1592.8" width="33.8" height="21.8" fill="#adc4ec"/><rect x="1412.7" y="1592.8" width="33.8" height="21.8" fill="#6592dc"/><rect x="1450.8" y="1592.8" width="33.8" height="21.8" fill="#3a6ecb"/><rect x="1488.8" y="1592.8" width="33.8" height="21.8" fill="#fcede9"/><rect x="1526.8" y="1592.8" width="33.8" height="21.8" fill="#fcede9"/><rect x="1564.8" y="1592.8" width="33.8" height="21.8" fill="#f8f7f9"/><rect x="1602.9" y="1592.8" width="33.8" height="21.8" fill="#d5e1f5"/><rect x="1640.9" y="1592.8" width="33.8" height="21.8" fill="#fc1410"/><rect x="1678.9" y="1592.8" width="33.8" height="21.8" fill="#fc1410"/><rect x="1260.6" y="1618.8" width="33.8" height="21.8" fill="#f33b2b"/><rect x="1298.6" y="1618.8" width="33.8" height="21.8" fill="#3a6ecb"/><rect x="1336.7" y="1618.8" width="33.8" height="21.8" fill="#3a6ecb"/><rect x="1374.7" y="1618.8" width="33.8" height="21.8" fill="#3a6ecb"/><rect x="1412.7" y="1618.8" width="33.8" height="21.8" fill="#6592dc"/><rect x="1450.8" y="1618.8" width="33.8" height="21.8" fill="#adc4ec"/><rect x="1488.8" y="1618.8" width="33.8" height="21.8" fill="#f49c8c"/><rect x="1526.8" y="1618.8" width="33.8" height="21.8" fill="#f1806e"/><rect x="1564.8" y="1618.8" width="33.8" height="21.8" fill="#f1806e"/><rect x="1602.9" y="1618.8" width="33.8" height="21.8" fill="#ef6855"/><rect x="1640.9" y="1618.8" width="33.8" height="21.8" fill="#fad5cd"/><rect x="1678.9" y="1618.8" width="33.8" height="21.8" fill="#fad5cd"/><rect x="1260.6" y="1644.8" width="33.8" height="21.8" fill="#3a6ecb"/><rect x="1298.6" y="1644.8" width="33.8" height="21.8" fill="#fad5cd"/><rect x="1336.7" y="1644.8" width="33.8" height="21.8" fill="#f7b7aa"/><rect x="1374.7" y="1644.8" width="33.8" height="21.8" fill="#fad5cd"/><rect x="1412.7" y="1644.8" width="33.8" height="21.8" fill="#2d5eb6"/><rect x="1450.8" y="1644.8" width="33.8" height="21.8" fill="#3a6ecb"/><rect x="1488.8" y="1644.8" width="33.8" height="21.8" fill="#f49c8c"/><rect x="1526.8" y="1644.8" width="33.8" height="21.8" fill="#f7b7aa"/><rect x="1564.8" y="1644.8" width="33.8" height="21.8" fill="#f49c8c"/><rect x="1602.9" y="1644.8" width="33.8" height="21.8" fill="#f1806e"/><rect x="1640.9" y="1644.8" width="33.8" height="21.8" fill="#f49c8c"/><rect x="1678.9" y="1644.8" width="33.8" height="21.8" fill="#f1806e"/><rect x="1260.6" y="1670.8" width="33.8" height="21.8" fill="#2d5eb6"/><rect x="1298.6" y="1670.8" width="33.8" height="21.8" fill="#d5e1f5"/><rect x="1336.7" y="1670.8" width="33.8" height="21.8" fill="#fcede9"/><rect x="1374.7" y="1670.8" width="33.8" height="21.8" fill="#fcede9"/><rect x="1412.7" y="1670.8" width="33.8" height="21.8" fill="#7fa4e1"/><rect x="1450.8" y="1670.8" width="33.8" height="21.8" fill="#adc4ec"/><rect x="1488.8" y="1670.8" width="33.8" height="21.8" fill="#f1806e"/><rect x="1526.8" y="1670.8" width="33.8" height="21.8" fill="#f49c8c"/><rect x="1564.8" y="1670.8" width="33.8" height="21.8" fill="#f7b7aa"/><rect x="1602.9" y="1670.8" width="33.8" height="21.8" fill="#f7b7aa"/><rect x="1640.9" y="1670.8" width="33.8" height="21.8" fill="#f49c8c"/><rect x="1678.9" y="1670.8" width="33.8" height="21.8" fill="#f49c8c"/><rect x="1260.6" y="1696.8" width="33.8" height="21.8" fill="#fad5cd"/><rect x="1298.6" y="1696.8" width="33.8" height="21.8" fill="#2d5eb6"/><rect x="1336.7" y="1696.8" width="33.8" height="21.8" fill="#fad5cd"/><rect x="1374.7" y="1696.8" width="33.8" height="21.8" fill="#f8f7f9"/><rect x="1412.7" y="1696.8" width="33.8" height="21.8" fill="#eaf0fa"/><rect x="1450.8" y="1696.8" width="33.8" height="21.8" fill="#3a6ecb"/><rect x="1488.8" y="1696.8" width="33.8" height="21.8" fill="#f7b7aa"/><rect x="1526.8" y="1696.8" width="33.8" height="21.8" fill="#f49c8c"/><rect x="1564.8" y="1696.8" width="33.8" height="21.8" fill="#f49c8c"/><rect x="1602.9" y="1696.8" width="33.8" height="21.8" fill="#f1806e"/><rect x="1640.9" y="1696.8" width="33.8" height="21.8" fill="#f1806e"/><rect x="1678.9" y="1696.8" width="33.8" height="21.8" fill="#f49c8c"/><rect x="1260.6" y="1722.8" width="33.8" height="21.8" fill="#2d5eb6"/><rect x="1298.6" y="1722.8" width="33.8" height="21.8" fill="#eaf0fa"/><rect x="1336.7" y="1722.8" width="33.8" height="21.8" fill="#6592dc"/><rect x="1374.7" y="1722.8" width="33.8" height="21.8" fill="#fad5cd"/><rect x="1412.7" y="1722.8" width="33.8" height="21.8" fill="#fcede9"/><rect x="1450.8" y="1722.8" width="33.8" height="21.8" fill="#f8f7f9"/><rect x="1488.8" y="1722.8" width="33.8" height="21.8" fill="#f7b7aa"/><rect x="1526.8" y="1722.8" width="33.8" height="21.8" fill="#f49c8c"/><rect x="1564.8" y="1722.8" width="33.8" height="21.8" fill="#f7b7aa"/><rect x="1602.9" y="1722.8" width="33.8" height="21.8" fill="#f49c8c"/><rect x="1640.9" y="1722.8" width="33.8" height="21.8" fill="#f7b7aa"/><rect x="1678.9" y="1722.8" width="33.8" height="21.8" fill="#f49c8c"/><rect x="1260.6" y="1748.9" width="33.8" height="21.8" fill="#3a6ecb"/><rect x="1298.6" y="1748.9" width="33.8" height="21.8" fill="#3a6ecb"/><rect x="1336.7" y="1748.9" width="33.8" height="21.8" fill="#f33b2b"/><rect x="1374.7" y="1748.9" width="33.8" height="21.8" fill="#2d5eb6"/><rect x="1412.7" y="1748.9" width="33.8" height="21.8" fill="#fad5cd"/><rect x="1450.8" y="1748.9" width="33.8" height="21.8" fill="#fcede9"/><rect x="1488.8" y="1748.9" width="33.8" height="21.8" fill="#f49c8c"/><rect x="1526.8" y="1748.9" width="33.8" height="21.8" fill="#f7b7aa"/><rect x="1564.8" y="1748.9" width="33.8" height="21.8" fill="#f49c8c"/><rect x="1602.9" y="1748.9" width="33.8" height="21.8" fill="#f49c8c"/><rect x="1640.9" y="1748.9" width="33.8" height="21.8" fill="#f7b7aa"/><rect x="1678.9" y="1748.9" width="33.8" height="21.8" fill="#f49c8c"/><rect x="1260.6" y="1774.9" width="33.8" height="21.8" fill="#2d5eb6"/><rect x="1298.6" y="1774.9" width="33.8" height="21.8" fill="#fcede9"/><rect x="1336.7" y="1774.9" width="33.8" height="21.8" fill="#d5e1f5"/><rect x="1374.7" y="1774.9" width="33.8" height="21.8" fill="#fcede9"/><rect x="1412.7" y="1774.9" width="33.8" height="21.8" fill="#fcede9"/><rect x="1450.8" y="1774.9" width="33.8" height="21.8" fill="#eaf0fa"/><rect x="1488.8" y="1774.9" width="33.8" height="21.8" fill="#f49c8c"/><rect x="1526.8" y="1774.9" width="33.8" height="21.8" fill="#f7b7aa"/><rect x="1564.8" y="1774.9" width="33.8" height="21.8" fill="#f49c8c"/><rect x="1602.9" y="1774.9" width="33.8" height="21.8" fill="#f49c8c"/><rect x="1640.9" y="1774.9" width="33.8" height="21.8" fill="#f49c8c"/><rect x="1678.9" y="1774.9" width="33.8" height="21.8" fill="#f7b7aa"/><rect x="1260.6" y="1800.9" width="33.8" height="21.8" fill="#2d5eb6"/><rect x="1298.6" y="1800.9" width="33.8" height="21.8" fill="#fad5cd"/><rect x="1336.7" y="1800.9" width="33.8" height="21.8" fill="#eaf0fa"/><rect x="1374.7" y="1800.9" width="33.8" height="21.8" fill="#f8f7f9"/><rect x="1412.7" y="1800.9" width="33.8" height="21.8" fill="#fcede9"/><rect x="1450.8" y="1800.9" width="33.8" height="21.8" fill="#eaf0fa"/><rect x="1488.8" y="1800.9" width="33.8" height="21.8" fill="#f7b7aa"/><rect x="1526.8" y="1800.9" width="33.8" height="21.8" fill="#f7b7aa"/><rect x="1564.8" y="1800.9" width="33.8" height="21.8" fill="#f49c8c"/><rect x="1602.9" y="1800.9" width="33.8" height="21.8" fill="#f49c8c"/><rect x="1640.9" y="1800.9" width="33.8" height="21.8" fill="#f7b7aa"/><rect x="1678.9" y="1800.9" width="33.8" height="21.8" fill="#f49c8c"/></g>
<g font-size="21" fill="#000" stroke="#000" stroke-width="0.45"><text x="1253.8" y="72.9" text-anchor="end" textLength="43.7" lengthAdjust="spacingAndGlyphs">MDK</text><text x="1254.9" y="98.9" text-anchor="end" textLength="60.9" lengthAdjust="spacingAndGlyphs">MMP1</text><text x="1253.8" y="124.9" text-anchor="end" textLength="45.1" lengthAdjust="spacingAndGlyphs">CALR</text><text x="1254.9" y="150.9" text-anchor="end" textLength="36.6" lengthAdjust="spacingAndGlyphs">FN1</text><text x="1254.9" y="176.9" text-anchor="end" textLength="47.5" lengthAdjust="spacingAndGlyphs">DSC1</text><text x="1254.9" y="203.0" text-anchor="end" textLength="60.9" lengthAdjust="spacingAndGlyphs">MMP8</text><text x="1253.8" y="229.0" text-anchor="end" textLength="59.9" lengthAdjust="spacingAndGlyphs">ACTN4</text><text x="1254.9" y="255.0" text-anchor="end" textLength="45.2" lengthAdjust="spacingAndGlyphs">CTSB</text><text x="1254.9" y="281.0" text-anchor="end" textLength="57.6" lengthAdjust="spacingAndGlyphs">FABP5</text><text x="1254.9" y="307.0" text-anchor="end" textLength="56.0" lengthAdjust="spacingAndGlyphs">CXCL8</text><text x="1253.8" y="333.0" text-anchor="end" textLength="54.2" lengthAdjust="spacingAndGlyphs">PTMA</text><text x="1254.8" y="359.0" text-anchor="end" textLength="87.1" lengthAdjust="spacingAndGlyphs">TNFRSF21</text><text x="1253.8" y="385.0" text-anchor="end" textLength="45.8" lengthAdjust="spacingAndGlyphs">FLNA</text><text x="1254.8" y="411.0" text-anchor="end" textLength="61.7" lengthAdjust="spacingAndGlyphs">SPON2</text><text x="1253.8" y="437.0" text-anchor="end" textLength="35.5" lengthAdjust="spacingAndGlyphs">MIF</text><text x="1254.8" y="463.1" text-anchor="end" textLength="55.4" lengthAdjust="spacingAndGlyphs">TIMP3</text><text x="1254.9" y="489.1" text-anchor="end" textLength="46.0" lengthAdjust="spacingAndGlyphs">FHL2</text><text x="1253.8" y="515.1" text-anchor="end" textLength="48.3" lengthAdjust="spacingAndGlyphs">PRNP</text><text x="1253.8" y="541.1" text-anchor="end" textLength="86.5" lengthAdjust="spacingAndGlyphs">MAP3K14</text><text x="1253.8" y="567.1" text-anchor="end" textLength="39.3" lengthAdjust="spacingAndGlyphs">PPIA</text><text x="1253.8" y="593.1" text-anchor="end" textLength="58.7" lengthAdjust="spacingAndGlyphs">PLAUR</text><text x="1254.8" y="619.1" text-anchor="end" textLength="43.1" lengthAdjust="spacingAndGlyphs">TPT1</text><text x="1255.0" y="645.1" text-anchor="end" textLength="56.4" lengthAdjust="spacingAndGlyphs">STAT1</text><text x="1254.9" y="671.1" text-anchor="end" textLength="50.5" lengthAdjust="spacingAndGlyphs">SOD1</text><text x="1254.9" y="697.1" text-anchor="end" textLength="71.4" lengthAdjust="spacingAndGlyphs">PLXND1</text><text x="1254.8" y="723.1" text-anchor="end" textLength="47.0" lengthAdjust="spacingAndGlyphs">CTTN</text><text x="1254.9" y="749.2" text-anchor="end" textLength="45.2" lengthAdjust="spacingAndGlyphs">YARS</text><text x="1253.8" y="775.2" text-anchor="end" textLength="47.5" lengthAdjust="spacingAndGlyphs">RTN4</text><text x="1254.9" y="801.2" text-anchor="end" textLength="40.7" lengthAdjust="spacingAndGlyphs">PPIB</text><text x="1254.8" y="827.2" text-anchor="end" textLength="43.2" lengthAdjust="spacingAndGlyphs">SPP1</text><text x="1254.8" y="853.2" text-anchor="end" textLength="66.1" lengthAdjust="spacingAndGlyphs">DPYSL2</text><text x="1254.8" y="879.2" text-anchor="end" textLength="65.1" lengthAdjust="spacingAndGlyphs">LGALS1</text><text x="1253.8" y="905.2" text-anchor="end" textLength="54.2" lengthAdjust="spacingAndGlyphs">RPS19</text><text x="1253.8" y="931.2" text-anchor="end" textLength="52.2" lengthAdjust="spacingAndGlyphs">MTAP</text><text x="1254.9" y="957.2" text-anchor="end" textLength="95.2" lengthAdjust="spacingAndGlyphs">PAFAH1B1</text><text x="1253.8" y="983.2" text-anchor="end" textLength="58.5" lengthAdjust="spacingAndGlyphs">INHBA</text><text x="1253.8" y="1009.3" text-anchor="end" textLength="47.3" lengthAdjust="spacingAndGlyphs">CD44</text><text x="1254.9" y="1035.3" text-anchor="end" textLength="55.3" lengthAdjust="spacingAndGlyphs">NQO1</text><text x="1253.8" y="1061.3" text-anchor="end" textLength="54.0" lengthAdjust="spacingAndGlyphs">MYH9</text><text x="1254.9" y="1087.3" text-anchor="end" textLength="45.3" lengthAdjust="spacingAndGlyphs">YBX1</text><text x="1254.9" y="1113.3" text-anchor="end" textLength="56.5" lengthAdjust="spacingAndGlyphs">S100B</text><text x="1254.8" y="1139.3" text-anchor="end" textLength="42.8" lengthAdjust="spacingAndGlyphs">CSF1</text><text x="1253.8" y="1165.3" text-anchor="end" textLength="41.8" lengthAdjust="spacingAndGlyphs">PLTP</text><text x="1253.8" y="1191.3" text-anchor="end" textLength="46.4" lengthAdjust="spacingAndGlyphs">GLRX</text><text x="1254.8" y="1217.3" text-anchor="end" textLength="87.0" lengthAdjust="spacingAndGlyphs">SERPINA1</text><text x="1254.9" y="1243.4" text-anchor="end" textLength="44.1" lengthAdjust="spacingAndGlyphs">LCP1</text><text x="1253.8" y="1269.4" text-anchor="end" textLength="73.3" lengthAdjust="spacingAndGlyphs">HNRNPL</text><text x="1254.8" y="1295.4" text-anchor="end" textLength="65.6" lengthAdjust="spacingAndGlyphs">LMNB1</text><text x="1254.8" y="1321.4" text-anchor="end" textLength="43.4" lengthAdjust="spacingAndGlyphs">STC1</text><text x="1253.8" y="1347.4" text-anchor="end" textLength="24.0" lengthAdjust="spacingAndGlyphs">LIF</text><text x="1253.8" y="1373.4" text-anchor="end" textLength="67.1" lengthAdjust="spacingAndGlyphs">RPL13A</text><text x="1253.8" y="1399.4" text-anchor="end" textLength="64.7" lengthAdjust="spacingAndGlyphs">CXCL16</text><text x="1253.8" y="1425.4" text-anchor="end" textLength="65.9" lengthAdjust="spacingAndGlyphs">S100A9</text><text x="1254.8" y="1451.4" text-anchor="end" textLength="59.5" lengthAdjust="spacingAndGlyphs">ARRB1</text><text x="1253.8" y="1477.4" text-anchor="end" textLength="44.0" lengthAdjust="spacingAndGlyphs">CRKL</text><text x="1253.8" y="1503.5" text-anchor="end" textLength="35.2" lengthAdjust="spacingAndGlyphs">AGT</text><text x="1253.8" y="1529.5" text-anchor="end" textLength="32.5" lengthAdjust="spacingAndGlyphs">EZR</text><text x="1254.8" y="1555.5" text-anchor="end" textLength="50.6" lengthAdjust="spacingAndGlyphs">VCAN</text><text x="1254.8" y="1581.5" text-anchor="end" textLength="69.6" lengthAdjust="spacingAndGlyphs">HSPB11</text><text x="1254.8" y="1607.5" text-anchor="end" textLength="66.9" lengthAdjust="spacingAndGlyphs">S100A8</text><text x="1254.8" y="1633.5" text-anchor="end" textLength="40.8" lengthAdjust="spacingAndGlyphs">IGF2</text><text x="1253.8" y="1659.5" text-anchor="end" textLength="43.7" lengthAdjust="spacingAndGlyphs">CAST</text><text x="1254.9" y="1685.5" text-anchor="end" textLength="49.8" lengthAdjust="spacingAndGlyphs">HARS</text><text x="1254.8" y="1711.5" text-anchor="end" textLength="58.6" lengthAdjust="spacingAndGlyphs">AIMP1</text><text x="1254.8" y="1737.5" text-anchor="end" textLength="40.1" lengthAdjust="spacingAndGlyphs">GRN</text><text x="1254.8" y="1763.6" text-anchor="end" textLength="58.4" lengthAdjust="spacingAndGlyphs">HEBP1</text><text x="1254.8" y="1789.6" text-anchor="end" textLength="65.8" lengthAdjust="spacingAndGlyphs">LGALS3</text><text x="1254.9" y="1815.6" text-anchor="end" textLength="46.4" lengthAdjust="spacingAndGlyphs">ADM</text></g>
<text x="1280" y="31.7" font-size="41" fill="#000" stroke="#000" stroke-width="0.4" textLength="131.0" lengthAdjust="spacingAndGlyphs">Control</text>
<text x="1545.5" y="31.7" font-size="41" fill="#000" stroke="#000" stroke-width="0.4" textLength="86.2" lengthAdjust="spacingAndGlyphs">MDK</text>
<defs><linearGradient id="cb" x1="0" y1="0" x2="1" y2="0"><stop offset="0" stop-color="#2d5fbd"/><stop offset="0.176" stop-color="#3168c4"/><stop offset="0.366" stop-color="#3b79d7"/><stop offset="0.432" stop-color="#7ba0e0"/><stop offset="0.496" stop-color="#b6c9ed"/><stop offset="0.55" stop-color="#eef2fb"/><stop offset="0.565" stop-color="#ffffff"/><stop offset="0.578" stop-color="#ffffff"/><stop offset="0.61" stop-color="#fde3dc"/><stop offset="0.674" stop-color="#f8b4a8"/><stop offset="0.733" stop-color="#f48a7a"/><stop offset="0.781" stop-color="#f06650"/><stop offset="0.881" stop-color="#f63a2c"/><stop offset="1.0" stop-color="#ff0000"/></linearGradient></defs>
<rect x="1260.4" y="1838.7" width="452.6" height="33.1" fill="url(#cb)"/>
<text x="1257" y="1904.5" font-size="32" fill="#000" stroke="#000" stroke-width="0.3" textLength="28.6" lengthAdjust="spacingAndGlyphs">-3</text>
<text x="1710" y="1904.5" font-size="32" text-anchor="end" fill="#000" stroke="#000" stroke-width="0.3" textLength="17.8" lengthAdjust="spacingAndGlyphs">2</text>
</svg></body></html>
